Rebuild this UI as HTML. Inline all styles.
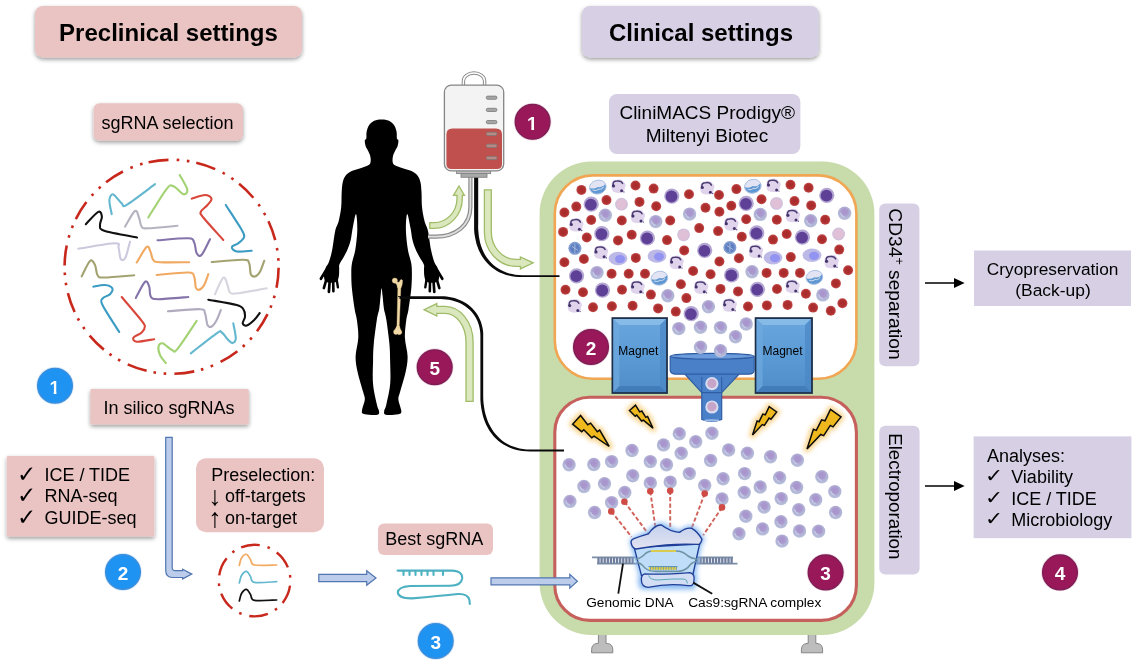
<!DOCTYPE html>
<html lang="en"><head><meta charset="utf-8"><title>Preclinical and clinical settings</title>
<style>html,body{margin:0;padding:0;background:#fff;}body{width:1134px;height:660px;overflow:hidden;}svg{display:block;filter:blur(0.4px);}text{font-family:"Liberation Sans", Arial, sans-serif;fill:#000;}</style></head><body>
<svg width="1134" height="660" viewBox="0 0 1134 660">
<defs>
<radialGradient id="gRed" cx="50%" cy="50%" r="50%"><stop offset="0" stop-color="#a62a2a"/><stop offset="0.7" stop-color="#b03030"/><stop offset="1" stop-color="#c45454"/></radialGradient>
<radialGradient id="gLav" cx="50%" cy="40%" r="60%"><stop offset="0" stop-color="#a794cc"/><stop offset="0.4" stop-color="#aa99cf"/><stop offset="0.62" stop-color="#b0b0d4"/><stop offset="1" stop-color="#b8c2dc"/></radialGradient>
<linearGradient id="gMag" x1="0" y1="0" x2="0" y2="1"><stop offset="0" stop-color="#6aa6de"/><stop offset="0.5" stop-color="#5b9bd5"/><stop offset="1" stop-color="#4f8cc8"/></linearGradient>
<linearGradient id="gCasTop" x1="0" y1="0" x2="0" y2="1"><stop offset="0" stop-color="#c3d2ee"/><stop offset="1" stop-color="#e4e3f1"/></linearGradient>
<filter id="sh" x="-10%" y="-20%" width="120%" height="160%"><feGaussianBlur in="SourceAlpha" stdDeviation="1.9"/><feOffset dx="0.3" dy="2.4" result="b"/><feComponentTransfer><feFuncA type="linear" slope="0.4"/></feComponentTransfer><feMerge><feMergeNode/><feMergeNode in="SourceGraphic"/></feMerge></filter>
<filter id="shb" x="-30%" y="-30%" width="160%" height="160%"><feGaussianBlur in="SourceAlpha" stdDeviation="1.2"/><feOffset dx="0" dy="1" result="b"/><feComponentTransfer><feFuncA type="linear" slope="0.35"/></feComponentTransfer><feMerge><feMergeNode/><feMergeNode in="SourceGraphic"/></feMerge></filter>
<filter id="glow" x="-50%" y="-50%" width="200%" height="200%"><feGaussianBlur stdDeviation="2.2"/></filter>
<filter id="glow2" x="-50%" y="-50%" width="200%" height="200%"><feGaussianBlur stdDeviation="2.4"/></filter>
<filter id="soft" x="-5%" y="-5%" width="110%" height="110%"><feGaussianBlur stdDeviation="0.35"/></filter>
<clipPath id="cpOne"><path d="M-5.4 -15 H1.9 V0.4 H-0.95 V-2.05 H-5.4 Z"/></clipPath>
</defs>
<rect width="1134" height="660" fill="#fff"/>
<g id="device">
<path d="M598.4 634 h7.6 v9.4 h1.2 q5.6 0.6 5.6 6.4 v3 h-21.2 v-3 q0 -5.8 5.6 -6.4 h1.2 Z" fill="#bdbdbd" stroke="#858585" stroke-width="1"/>
<path d="M808.2 634 h7.6 v9.4 h1.2 q5.6 0.6 5.6 6.4 v3 h-21.2 v-3 q0 -5.8 5.6 -6.4 h1.2 Z" fill="#bdbdbd" stroke="#858585" stroke-width="1"/>
<rect x="539.6" y="161.6" width="334.8" height="473.4" rx="52" ry="52" fill="#c8dbaa"/>
<rect x="554.8" y="175.4" width="301.6" height="203.4" rx="38" ry="38" fill="#fff" stroke="#f0a653" stroke-width="2.6"/>
<rect x="554.8" y="397.2" width="301.6" height="223.2" rx="35" ry="35" fill="#fff" stroke="#c6605c" stroke-width="3.1"/>
</g>
<g id="upper-cells">
<circle cx="581.4" cy="189.9" r="5" fill="url(#gRed)"/>
<circle cx="736.4" cy="189.1" r="5" fill="url(#gRed)"/>
<circle cx="635.5" cy="185.5" r="5" fill="url(#gRed)"/>
<circle cx="790.5" cy="184.7" r="5" fill="url(#gRed)"/>
<circle cx="653.6" cy="188.6" r="5" fill="url(#gRed)"/>
<circle cx="808.6" cy="187.8" r="5" fill="url(#gRed)"/>
<circle cx="689" cy="194.2" r="5" fill="url(#gRed)"/>
<circle cx="606.5" cy="200.1" r="5" fill="url(#gRed)"/>
<circle cx="761.5" cy="199.3" r="5" fill="url(#gRed)"/>
<circle cx="639.5" cy="201.9" r="5" fill="url(#gRed)"/>
<circle cx="794.5" cy="201.1" r="5" fill="url(#gRed)"/>
<circle cx="656.2" cy="206.2" r="5" fill="url(#gRed)"/>
<circle cx="811.2" cy="205.4" r="5" fill="url(#gRed)"/>
<circle cx="705.5" cy="207.7" r="5" fill="url(#gRed)"/>
<circle cx="576.3" cy="206.6" r="5" fill="url(#gRed)"/>
<circle cx="731.3" cy="205.8" r="5" fill="url(#gRed)"/>
<circle cx="564.4" cy="212.5" r="5" fill="url(#gRed)"/>
<circle cx="719.4" cy="211.7" r="5" fill="url(#gRed)"/>
<circle cx="591.2" cy="220" r="5" fill="url(#gRed)"/>
<circle cx="746.2" cy="219.2" r="5" fill="url(#gRed)"/>
<circle cx="621.8" cy="220.5" r="5" fill="url(#gRed)"/>
<circle cx="776.8" cy="219.7" r="5" fill="url(#gRed)"/>
<circle cx="670.2" cy="220.5" r="5" fill="url(#gRed)"/>
<circle cx="825.2" cy="219.7" r="5" fill="url(#gRed)"/>
<circle cx="699.2" cy="228.1" r="5" fill="url(#gRed)"/>
<circle cx="563.1" cy="231.9" r="5" fill="url(#gRed)"/>
<circle cx="718.1" cy="231.1" r="5" fill="url(#gRed)"/>
<circle cx="586.8" cy="237.5" r="5" fill="url(#gRed)"/>
<circle cx="741.8" cy="236.7" r="5" fill="url(#gRed)"/>
<circle cx="618" cy="240.4" r="5" fill="url(#gRed)"/>
<circle cx="773" cy="239.6" r="5" fill="url(#gRed)"/>
<circle cx="631.7" cy="234.8" r="5" fill="url(#gRed)"/>
<circle cx="786.7" cy="234" r="5" fill="url(#gRed)"/>
<circle cx="667" cy="240.1" r="5" fill="url(#gRed)"/>
<circle cx="822" cy="239.3" r="5" fill="url(#gRed)"/>
<circle cx="684.2" cy="250.4" r="5" fill="url(#gRed)"/>
<circle cx="839.2" cy="249.6" r="5" fill="url(#gRed)"/>
<circle cx="635.8" cy="257.9" r="5" fill="url(#gRed)"/>
<circle cx="790.8" cy="257.1" r="5" fill="url(#gRed)"/>
<circle cx="583.9" cy="259" r="5" fill="url(#gRed)"/>
<circle cx="738.9" cy="258.2" r="5" fill="url(#gRed)"/>
<circle cx="564.4" cy="262.3" r="5" fill="url(#gRed)"/>
<circle cx="719.4" cy="261.5" r="5" fill="url(#gRed)"/>
<circle cx="611.6" cy="273.7" r="5" fill="url(#gRed)"/>
<circle cx="766.6" cy="272.9" r="5" fill="url(#gRed)"/>
<circle cx="628.7" cy="273.7" r="5" fill="url(#gRed)"/>
<circle cx="783.7" cy="272.9" r="5" fill="url(#gRed)"/>
<circle cx="645" cy="273.7" r="5" fill="url(#gRed)"/>
<circle cx="800" cy="272.9" r="5" fill="url(#gRed)"/>
<circle cx="693.1" cy="271" r="5" fill="url(#gRed)"/>
<circle cx="848.1" cy="270.2" r="5" fill="url(#gRed)"/>
<circle cx="710.6" cy="274.2" r="5" fill="url(#gRed)"/>
<circle cx="565.5" cy="289.7" r="5" fill="url(#gRed)"/>
<circle cx="720.5" cy="288.9" r="5" fill="url(#gRed)"/>
<circle cx="583" cy="292.2" r="5" fill="url(#gRed)"/>
<circle cx="738" cy="291.4" r="5" fill="url(#gRed)"/>
<circle cx="622" cy="289.8" r="5" fill="url(#gRed)"/>
<circle cx="777" cy="289" r="5" fill="url(#gRed)"/>
<circle cx="650.9" cy="294.6" r="5" fill="url(#gRed)"/>
<circle cx="805.9" cy="293.8" r="5" fill="url(#gRed)"/>
<circle cx="680.9" cy="284.2" r="5" fill="url(#gRed)"/>
<circle cx="835.9" cy="283.4" r="5" fill="url(#gRed)"/>
<circle cx="686.4" cy="298.1" r="5" fill="url(#gRed)"/>
<circle cx="842.4" cy="303.2" r="5" fill="url(#gRed)"/>
<circle cx="593" cy="307.3" r="5" fill="url(#gRed)"/>
<circle cx="748" cy="306.5" r="5" fill="url(#gRed)"/>
<circle cx="611.9" cy="306.2" r="5" fill="url(#gRed)"/>
<circle cx="766.9" cy="305.4" r="5" fill="url(#gRed)"/>
<circle cx="632.6" cy="305.7" r="5" fill="url(#gRed)"/>
<circle cx="787.6" cy="304.9" r="5" fill="url(#gRed)"/>
<circle cx="658.1" cy="308.4" r="5" fill="url(#gRed)"/>
<circle cx="813.1" cy="307.6" r="5" fill="url(#gRed)"/>
<circle cx="675.8" cy="311.6" r="5" fill="url(#gRed)"/>
<circle cx="830.8" cy="310.8" r="5" fill="url(#gRed)"/>
<circle cx="591.2" cy="204.2" r="7.6" fill="#b3a6d3"/><circle cx="590.9" cy="204.6" r="5.9" fill="#5e4196"/>
<circle cx="746.2" cy="203.4" r="7.6" fill="#b3a6d3"/><circle cx="745.9" cy="203.8" r="5.9" fill="#5e4196"/>
<circle cx="671.8" cy="196.1" r="7.6" fill="#b3a6d3"/><circle cx="671.5" cy="196.5" r="5.9" fill="#5e4196"/>
<circle cx="826.8" cy="195.3" r="7.6" fill="#b3a6d3"/><circle cx="826.5" cy="195.7" r="5.9" fill="#5e4196"/>
<circle cx="601.8" cy="233.7" r="7.6" fill="#b3a6d3"/><circle cx="601.5" cy="234.1" r="5.9" fill="#5e4196"/>
<circle cx="756.8" cy="232.9" r="7.6" fill="#b3a6d3"/><circle cx="756.5" cy="233.3" r="5.9" fill="#5e4196"/>
<circle cx="647.4" cy="238" r="7.6" fill="#b3a6d3"/><circle cx="647.1" cy="238.4" r="5.9" fill="#5e4196"/>
<circle cx="802.4" cy="237.2" r="7.6" fill="#b3a6d3"/><circle cx="802.1" cy="237.6" r="5.9" fill="#5e4196"/>
<circle cx="704.7" cy="250.4" r="7.6" fill="#b3a6d3"/><circle cx="704.4" cy="250.8" r="5.9" fill="#5e4196"/>
<circle cx="576.6" cy="275.8" r="7.6" fill="#b3a6d3"/><circle cx="576.3" cy="276.2" r="5.9" fill="#5e4196"/>
<circle cx="731.6" cy="275" r="7.6" fill="#b3a6d3"/><circle cx="731.3" cy="275.4" r="5.9" fill="#5e4196"/>
<circle cx="602.5" cy="290.1" r="7.6" fill="#b3a6d3"/><circle cx="602.2" cy="290.5" r="5.9" fill="#5e4196"/>
<circle cx="757.5" cy="289.3" r="7.6" fill="#b3a6d3"/><circle cx="757.2" cy="289.7" r="5.9" fill="#5e4196"/>
<circle cx="691.2" cy="313.7" r="7.6" fill="#b3a6d3"/><circle cx="690.9" cy="314.1" r="5.9" fill="#5e4196"/>
<circle cx="605.3" cy="215.2" r="6.7" fill="url(#gLav)"/><path d="M601.4 215 q0.6 3 3.6 3.9" fill="none" stroke="#c9d0e8" stroke-width="1.1" stroke-linecap="round" opacity="0.9"/>
<circle cx="760.3" cy="214.4" r="6.7" fill="url(#gLav)"/><path d="M756.4 214.2 q0.6 3 3.6 3.9" fill="none" stroke="#c9d0e8" stroke-width="1.1" stroke-linecap="round" opacity="0.9"/>
<circle cx="655.7" cy="221.6" r="6.7" fill="url(#gLav)"/><path d="M651.8 221.4 q0.6 3 3.6 3.9" fill="none" stroke="#c9d0e8" stroke-width="1.1" stroke-linecap="round" opacity="0.9"/>
<circle cx="810.7" cy="220.8" r="6.7" fill="url(#gLav)"/><path d="M806.8 220.6 q0.6 3 3.6 3.9" fill="none" stroke="#c9d0e8" stroke-width="1.1" stroke-linecap="round" opacity="0.9"/>
<circle cx="689.6" cy="214.1" r="6.7" fill="url(#gLav)"/><path d="M685.7 213.9 q0.6 3 3.6 3.9" fill="none" stroke="#c9d0e8" stroke-width="1.1" stroke-linecap="round" opacity="0.9"/>
<circle cx="844.6" cy="213.3" r="6.7" fill="url(#gLav)"/><path d="M840.7 213.1 q0.6 3 3.6 3.9" fill="none" stroke="#c9d0e8" stroke-width="1.1" stroke-linecap="round" opacity="0.9"/>
<circle cx="597" cy="272.6" r="6.7" fill="url(#gLav)"/><path d="M593.1 272.4 q0.6 3 3.6 3.9" fill="none" stroke="#c9d0e8" stroke-width="1.1" stroke-linecap="round" opacity="0.9"/>
<circle cx="752" cy="271.8" r="6.7" fill="url(#gLav)"/><path d="M748.1 271.6 q0.6 3 3.6 3.9" fill="none" stroke="#c9d0e8" stroke-width="1.1" stroke-linecap="round" opacity="0.9"/>
<circle cx="667.8" cy="295.7" r="6.7" fill="url(#gLav)"/><path d="M663.9 295.5 q0.6 3 3.6 3.9" fill="none" stroke="#c9d0e8" stroke-width="1.1" stroke-linecap="round" opacity="0.9"/>
<circle cx="822.8" cy="294.9" r="6.7" fill="url(#gLav)"/><path d="M818.9 294.7 q0.6 3 3.6 3.9" fill="none" stroke="#c9d0e8" stroke-width="1.1" stroke-linecap="round" opacity="0.9"/>
<circle cx="621.5" cy="204.2" r="6.4" fill="#cfc0dc"/><circle cx="621.5" cy="204.2" r="5.2" fill="#e0c0d6"/>
<circle cx="776.5" cy="203.4" r="6.4" fill="#cfc0dc"/><circle cx="776.5" cy="203.4" r="5.2" fill="#e0c0d6"/>
<circle cx="683.6" cy="234.8" r="6.4" fill="#cfc0dc"/><circle cx="683.6" cy="234.8" r="5.2" fill="#e0c0d6"/>
<circle cx="838.6" cy="234" r="6.4" fill="#cfc0dc"/><circle cx="838.6" cy="234" r="5.2" fill="#e0c0d6"/>
<g transform="translate(597.8 187.1) rotate(-14)"><ellipse rx="8.4" ry="6.9" fill="#e2e4f3"/><path d="M-8.2 -1.2 Q-4 1.6 0 -0.2 Q4 2 8.3 -1 Q8.6 5.6 1.5 6.8 Q-7.4 7.2 -8.2 -1.2Z" fill="#5f97d2"/><path d="M-5.4 1.6 Q-2.6 3.6 0 2 Q2.6 3.8 5.4 1.4" fill="none" stroke="#c3d6ee" stroke-width="1" stroke-linecap="round"/><ellipse rx="8.4" ry="6.9" fill="none" stroke="#a9bfe2" stroke-width="0.9"/></g>
<g transform="translate(752.8 186.3) rotate(-14)"><ellipse rx="8.4" ry="6.9" fill="#e2e4f3"/><path d="M-8.2 -1.2 Q-4 1.6 0 -0.2 Q4 2 8.3 -1 Q8.6 5.6 1.5 6.8 Q-7.4 7.2 -8.2 -1.2Z" fill="#5f97d2"/><path d="M-5.4 1.6 Q-2.6 3.6 0 2 Q2.6 3.8 5.4 1.4" fill="none" stroke="#c3d6ee" stroke-width="1" stroke-linecap="round"/><ellipse rx="8.4" ry="6.9" fill="none" stroke="#a9bfe2" stroke-width="0.9"/></g>
<g transform="translate(659.4 278.2) rotate(-14)"><ellipse rx="8.4" ry="6.9" fill="#e2e4f3"/><path d="M-8.2 -1.2 Q-4 1.6 0 -0.2 Q4 2 8.3 -1 Q8.6 5.6 1.5 6.8 Q-7.4 7.2 -8.2 -1.2Z" fill="#5f97d2"/><path d="M-5.4 1.6 Q-2.6 3.6 0 2 Q2.6 3.8 5.4 1.4" fill="none" stroke="#c3d6ee" stroke-width="1" stroke-linecap="round"/><ellipse rx="8.4" ry="6.9" fill="none" stroke="#a9bfe2" stroke-width="0.9"/></g>
<g transform="translate(814.4 277.4) rotate(-14)"><ellipse rx="8.4" ry="6.9" fill="#e2e4f3"/><path d="M-8.2 -1.2 Q-4 1.6 0 -0.2 Q4 2 8.3 -1 Q8.6 5.6 1.5 6.8 Q-7.4 7.2 -8.2 -1.2Z" fill="#5f97d2"/><path d="M-5.4 1.6 Q-2.6 3.6 0 2 Q2.6 3.8 5.4 1.4" fill="none" stroke="#c3d6ee" stroke-width="1" stroke-linecap="round"/><ellipse rx="8.4" ry="6.9" fill="none" stroke="#a9bfe2" stroke-width="0.9"/></g>
<circle cx="574.9" cy="248.3" r="6.5" fill="#7f9bd0"/><circle cx="574.9" cy="248.3" r="4.8" fill="#5f7fc0"/><path d="M574.9 243.8 v9 M571.9 246.3 l6 4" stroke="#a9bde0" stroke-width="0.9" fill="none"/>
<circle cx="729.9" cy="247.5" r="6.5" fill="#7f9bd0"/><circle cx="729.9" cy="247.5" r="4.8" fill="#5f7fc0"/><path d="M729.9 243 v9 M726.9 245.5 l6 4" stroke="#a9bde0" stroke-width="0.9" fill="none"/>
<g transform="translate(618 186.3)"><path d="M-6.5 -1 Q-7 -6 -2 -6.5 Q4 -8 6 -4 Q9 -2.5 6.8 1.5 Q7.4 6.6 1 6.6 Q-6 7 -6.5 2Z" fill="#e0d4ed"/><path d="M-4.9 -1.2 Q-5.4 -5.2 -1.2 -5.2 Q3.4 -5.8 4.6 -2.8" fill="none" stroke="#4b3d72" stroke-width="1.5" stroke-linecap="round"/><circle cx="-4.5" cy="-0.4" r="1.6" fill="#43356c"/><circle cx="3.6" cy="4.4" r="1.5" fill="#43356c"/><circle cx="5.9" cy="5.6" r="0.7" fill="#55468a"/></g>
<g transform="translate(773 185.5)"><path d="M-6.5 -1 Q-7 -6 -2 -6.5 Q4 -8 6 -4 Q9 -2.5 6.8 1.5 Q7.4 6.6 1 6.6 Q-6 7 -6.5 2Z" fill="#e0d4ed"/><path d="M-4.9 -1.2 Q-5.4 -5.2 -1.2 -5.2 Q3.4 -5.8 4.6 -2.8" fill="none" stroke="#4b3d72" stroke-width="1.5" stroke-linecap="round"/><circle cx="-4.5" cy="-0.4" r="1.6" fill="#43356c"/><circle cx="3.6" cy="4.4" r="1.5" fill="#43356c"/><circle cx="5.9" cy="5.6" r="0.7" fill="#55468a"/></g>
<g transform="translate(706.8 187.9)"><path d="M-6.5 -1 Q-7 -6 -2 -6.5 Q4 -8 6 -4 Q9 -2.5 6.8 1.5 Q7.4 6.6 1 6.6 Q-6 7 -6.5 2Z" fill="#e0d4ed"/><path d="M-4.9 -1.2 Q-5.4 -5.2 -1.2 -5.2 Q3.4 -5.8 4.6 -2.8" fill="none" stroke="#4b3d72" stroke-width="1.5" stroke-linecap="round"/><circle cx="-4.5" cy="-0.4" r="1.6" fill="#43356c"/><circle cx="3.6" cy="4.4" r="1.5" fill="#43356c"/><circle cx="5.9" cy="5.6" r="0.7" fill="#55468a"/></g>
<g transform="translate(637.4 216.5)"><path d="M-6.5 -1 Q-7 -6 -2 -6.5 Q4 -8 6 -4 Q9 -2.5 6.8 1.5 Q7.4 6.6 1 6.6 Q-6 7 -6.5 2Z" fill="#e0d4ed"/><path d="M-4.9 -1.2 Q-5.4 -5.2 -1.2 -5.2 Q3.4 -5.8 4.6 -2.8" fill="none" stroke="#4b3d72" stroke-width="1.5" stroke-linecap="round"/><circle cx="-4.5" cy="-0.4" r="1.6" fill="#43356c"/><circle cx="3.6" cy="4.4" r="1.5" fill="#43356c"/><circle cx="5.9" cy="5.6" r="0.7" fill="#55468a"/></g>
<g transform="translate(792.4 215.7)"><path d="M-6.5 -1 Q-7 -6 -2 -6.5 Q4 -8 6 -4 Q9 -2.5 6.8 1.5 Q7.4 6.6 1 6.6 Q-6 7 -6.5 2Z" fill="#e0d4ed"/><path d="M-4.9 -1.2 Q-5.4 -5.2 -1.2 -5.2 Q3.4 -5.8 4.6 -2.8" fill="none" stroke="#4b3d72" stroke-width="1.5" stroke-linecap="round"/><circle cx="-4.5" cy="-0.4" r="1.6" fill="#43356c"/><circle cx="3.6" cy="4.4" r="1.5" fill="#43356c"/><circle cx="5.9" cy="5.6" r="0.7" fill="#55468a"/></g>
<g transform="translate(575.8 224.9)"><path d="M-6.5 -1 Q-7 -6 -2 -6.5 Q4 -8 6 -4 Q9 -2.5 6.8 1.5 Q7.4 6.6 1 6.6 Q-6 7 -6.5 2Z" fill="#e0d4ed"/><path d="M-4.9 -1.2 Q-5.4 -5.2 -1.2 -5.2 Q3.4 -5.8 4.6 -2.8" fill="none" stroke="#4b3d72" stroke-width="1.5" stroke-linecap="round"/><circle cx="-4.5" cy="-0.4" r="1.6" fill="#43356c"/><circle cx="3.6" cy="4.4" r="1.5" fill="#43356c"/><circle cx="5.9" cy="5.6" r="0.7" fill="#55468a"/></g>
<g transform="translate(730.8 224.1)"><path d="M-6.5 -1 Q-7 -6 -2 -6.5 Q4 -8 6 -4 Q9 -2.5 6.8 1.5 Q7.4 6.6 1 6.6 Q-6 7 -6.5 2Z" fill="#e0d4ed"/><path d="M-4.9 -1.2 Q-5.4 -5.2 -1.2 -5.2 Q3.4 -5.8 4.6 -2.8" fill="none" stroke="#4b3d72" stroke-width="1.5" stroke-linecap="round"/><circle cx="-4.5" cy="-0.4" r="1.6" fill="#43356c"/><circle cx="3.6" cy="4.4" r="1.5" fill="#43356c"/><circle cx="5.9" cy="5.6" r="0.7" fill="#55468a"/></g>
<g transform="translate(600.5 252.3)"><path d="M-6.5 -1 Q-7 -6 -2 -6.5 Q4 -8 6 -4 Q9 -2.5 6.8 1.5 Q7.4 6.6 1 6.6 Q-6 7 -6.5 2Z" fill="#e0d4ed"/><path d="M-4.9 -1.2 Q-5.4 -5.2 -1.2 -5.2 Q3.4 -5.8 4.6 -2.8" fill="none" stroke="#4b3d72" stroke-width="1.5" stroke-linecap="round"/><circle cx="-4.5" cy="-0.4" r="1.6" fill="#43356c"/><circle cx="3.6" cy="4.4" r="1.5" fill="#43356c"/><circle cx="5.9" cy="5.6" r="0.7" fill="#55468a"/></g>
<g transform="translate(755.5 251.5)"><path d="M-6.5 -1 Q-7 -6 -2 -6.5 Q4 -8 6 -4 Q9 -2.5 6.8 1.5 Q7.4 6.6 1 6.6 Q-6 7 -6.5 2Z" fill="#e0d4ed"/><path d="M-4.9 -1.2 Q-5.4 -5.2 -1.2 -5.2 Q3.4 -5.8 4.6 -2.8" fill="none" stroke="#4b3d72" stroke-width="1.5" stroke-linecap="round"/><circle cx="-4.5" cy="-0.4" r="1.6" fill="#43356c"/><circle cx="3.6" cy="4.4" r="1.5" fill="#43356c"/><circle cx="5.9" cy="5.6" r="0.7" fill="#55468a"/></g>
<g transform="translate(676.1 262.5)"><path d="M-6.5 -1 Q-7 -6 -2 -6.5 Q4 -8 6 -4 Q9 -2.5 6.8 1.5 Q7.4 6.6 1 6.6 Q-6 7 -6.5 2Z" fill="#e0d4ed"/><path d="M-4.9 -1.2 Q-5.4 -5.2 -1.2 -5.2 Q3.4 -5.8 4.6 -2.8" fill="none" stroke="#4b3d72" stroke-width="1.5" stroke-linecap="round"/><circle cx="-4.5" cy="-0.4" r="1.6" fill="#43356c"/><circle cx="3.6" cy="4.4" r="1.5" fill="#43356c"/><circle cx="5.9" cy="5.6" r="0.7" fill="#55468a"/></g>
<g transform="translate(831.1 261.7)"><path d="M-6.5 -1 Q-7 -6 -2 -6.5 Q4 -8 6 -4 Q9 -2.5 6.8 1.5 Q7.4 6.6 1 6.6 Q-6 7 -6.5 2Z" fill="#e0d4ed"/><path d="M-4.9 -1.2 Q-5.4 -5.2 -1.2 -5.2 Q3.4 -5.8 4.6 -2.8" fill="none" stroke="#4b3d72" stroke-width="1.5" stroke-linecap="round"/><circle cx="-4.5" cy="-0.4" r="1.6" fill="#43356c"/><circle cx="3.6" cy="4.4" r="1.5" fill="#43356c"/><circle cx="5.9" cy="5.6" r="0.7" fill="#55468a"/></g>
<g transform="translate(637.1 287.3)"><path d="M-6.5 -1 Q-7 -6 -2 -6.5 Q4 -8 6 -4 Q9 -2.5 6.8 1.5 Q7.4 6.6 1 6.6 Q-6 7 -6.5 2Z" fill="#e0d4ed"/><path d="M-4.9 -1.2 Q-5.4 -5.2 -1.2 -5.2 Q3.4 -5.8 4.6 -2.8" fill="none" stroke="#4b3d72" stroke-width="1.5" stroke-linecap="round"/><circle cx="-4.5" cy="-0.4" r="1.6" fill="#43356c"/><circle cx="3.6" cy="4.4" r="1.5" fill="#43356c"/><circle cx="5.9" cy="5.6" r="0.7" fill="#55468a"/></g>
<g transform="translate(792.1 286.5)"><path d="M-6.5 -1 Q-7 -6 -2 -6.5 Q4 -8 6 -4 Q9 -2.5 6.8 1.5 Q7.4 6.6 1 6.6 Q-6 7 -6.5 2Z" fill="#e0d4ed"/><path d="M-4.9 -1.2 Q-5.4 -5.2 -1.2 -5.2 Q3.4 -5.8 4.6 -2.8" fill="none" stroke="#4b3d72" stroke-width="1.5" stroke-linecap="round"/><circle cx="-4.5" cy="-0.4" r="1.6" fill="#43356c"/><circle cx="3.6" cy="4.4" r="1.5" fill="#43356c"/><circle cx="5.9" cy="5.6" r="0.7" fill="#55468a"/></g>
<g transform="translate(700.7 287.3)"><path d="M-6.5 -1 Q-7 -6 -2 -6.5 Q4 -8 6 -4 Q9 -2.5 6.8 1.5 Q7.4 6.6 1 6.6 Q-6 7 -6.5 2Z" fill="#e0d4ed"/><path d="M-4.9 -1.2 Q-5.4 -5.2 -1.2 -5.2 Q3.4 -5.8 4.6 -2.8" fill="none" stroke="#4b3d72" stroke-width="1.5" stroke-linecap="round"/><circle cx="-4.5" cy="-0.4" r="1.6" fill="#43356c"/><circle cx="3.6" cy="4.4" r="1.5" fill="#43356c"/><circle cx="5.9" cy="5.6" r="0.7" fill="#55468a"/></g>
<g transform="translate(574.2 306)"><path d="M-6.5 -1 Q-7 -6 -2 -6.5 Q4 -8 6 -4 Q9 -2.5 6.8 1.5 Q7.4 6.6 1 6.6 Q-6 7 -6.5 2Z" fill="#e0d4ed"/><path d="M-4.9 -1.2 Q-5.4 -5.2 -1.2 -5.2 Q3.4 -5.8 4.6 -2.8" fill="none" stroke="#4b3d72" stroke-width="1.5" stroke-linecap="round"/><circle cx="-4.5" cy="-0.4" r="1.6" fill="#43356c"/><circle cx="3.6" cy="4.4" r="1.5" fill="#43356c"/><circle cx="5.9" cy="5.6" r="0.7" fill="#55468a"/></g>
<g transform="translate(729.2 305.2)"><path d="M-6.5 -1 Q-7 -6 -2 -6.5 Q4 -8 6 -4 Q9 -2.5 6.8 1.5 Q7.4 6.6 1 6.6 Q-6 7 -6.5 2Z" fill="#e0d4ed"/><path d="M-4.9 -1.2 Q-5.4 -5.2 -1.2 -5.2 Q3.4 -5.8 4.6 -2.8" fill="none" stroke="#4b3d72" stroke-width="1.5" stroke-linecap="round"/><circle cx="-4.5" cy="-0.4" r="1.6" fill="#43356c"/><circle cx="3.6" cy="4.4" r="1.5" fill="#43356c"/><circle cx="5.9" cy="5.6" r="0.7" fill="#55468a"/></g>
<ellipse cx="618" cy="258.5" rx="9.4" ry="6.7" fill="#bdb9e6"/><ellipse cx="620" cy="259" rx="5" ry="4.1" fill="#9394f2"/>
<ellipse cx="773" cy="257.7" rx="9.4" ry="6.7" fill="#bdb9e6"/><ellipse cx="775" cy="258.2" rx="5" ry="4.1" fill="#9394f2"/>
<ellipse cx="657" cy="256.1" rx="9.4" ry="6.7" fill="#bdb9e6"/><ellipse cx="659" cy="256.6" rx="5" ry="4.1" fill="#9394f2"/>
<ellipse cx="812" cy="255.3" rx="9.4" ry="6.7" fill="#bdb9e6"/><ellipse cx="814" cy="255.8" rx="5" ry="4.1" fill="#9394f2"/>
<circle cx="719" cy="195" r="5" fill="url(#gRed)"/>
<circle cx="708.4" cy="306.8" r="6.7" fill="url(#gLav)"/><path d="M704.5 306.6 q0.6 3 3.6 3.9" fill="none" stroke="#c9d0e8" stroke-width="1.1" stroke-linecap="round" opacity="0.9"/>
<circle cx="678.8" cy="328.6" r="6.7" fill="url(#gLav)"/><path d="M674.9 328.4 q0.6 3 3.6 3.9" fill="none" stroke="#c9d0e8" stroke-width="1.1" stroke-linecap="round" opacity="0.9"/>
<circle cx="700.5" cy="327.2" r="6.7" fill="url(#gLav)"/><path d="M696.6 327 q0.6 3 3.6 3.9" fill="none" stroke="#c9d0e8" stroke-width="1.1" stroke-linecap="round" opacity="0.9"/>
<circle cx="720.5" cy="327.6" r="6.7" fill="url(#gLav)"/><path d="M716.6 327.4 q0.6 3 3.6 3.9" fill="none" stroke="#c9d0e8" stroke-width="1.1" stroke-linecap="round" opacity="0.9"/>
<circle cx="746.2" cy="324" r="6.7" fill="url(#gLav)"/><path d="M742.3 323.8 q0.6 3 3.6 3.9" fill="none" stroke="#c9d0e8" stroke-width="1.1" stroke-linecap="round" opacity="0.9"/>
<circle cx="735.5" cy="336.8" r="6.7" fill="url(#gLav)"/><path d="M731.6 336.6 q0.6 3 3.6 3.9" fill="none" stroke="#c9d0e8" stroke-width="1.1" stroke-linecap="round" opacity="0.9"/>
</g>
<g id="lower-cells">
<path d="M611.3 511.4 L631.5 536.8" stroke="#d0625a" stroke-width="1.9" stroke-dasharray="4.2 2.2" fill="none"/>
<path d="M624.4 501.8 L648.2 533.7" stroke="#d0625a" stroke-width="1.9" stroke-dasharray="4.2 2.2" fill="none"/>
<path d="M650.3 491.2 L655.4 527.3" stroke="#d0625a" stroke-width="1.9" stroke-dasharray="4.2 2.2" fill="none"/>
<path d="M670.2 490.7 L670.2 527.3" stroke="#d0625a" stroke-width="1.9" stroke-dasharray="4.2 2.2" fill="none"/>
<path d="M704.7 493.6 L692 527.3" stroke="#d0625a" stroke-width="1.9" stroke-dasharray="4.2 2.2" fill="none"/>
<path d="M722 507.4 L703.2 535.3" stroke="#d0625a" stroke-width="1.9" stroke-dasharray="4.2 2.2" fill="none"/>
<circle cx="569.1" cy="464.8" r="6.7" fill="url(#gLav)"/><path d="M565.2 464.6 q0.6 3 3.6 3.9" fill="none" stroke="#c9d0e8" stroke-width="1.1" stroke-linecap="round" opacity="0.9"/>
<circle cx="593.8" cy="464.5" r="6.7" fill="url(#gLav)"/><path d="M589.9 464.3 q0.6 3 3.6 3.9" fill="none" stroke="#c9d0e8" stroke-width="1.1" stroke-linecap="round" opacity="0.9"/>
<circle cx="611.6" cy="461.6" r="6.7" fill="url(#gLav)"/><path d="M607.7 461.4 q0.6 3 3.6 3.9" fill="none" stroke="#c9d0e8" stroke-width="1.1" stroke-linecap="round" opacity="0.9"/>
<circle cx="632" cy="450.5" r="6.7" fill="url(#gLav)"/><path d="M628.1 450.3 q0.6 3 3.6 3.9" fill="none" stroke="#c9d0e8" stroke-width="1.1" stroke-linecap="round" opacity="0.9"/>
<circle cx="663.5" cy="444.9" r="6.7" fill="url(#gLav)"/><path d="M659.6 444.7 q0.6 3 3.6 3.9" fill="none" stroke="#c9d0e8" stroke-width="1.1" stroke-linecap="round" opacity="0.9"/>
<circle cx="679.3" cy="433.8" r="6.7" fill="url(#gLav)"/><path d="M675.4 433.6 q0.6 3 3.6 3.9" fill="none" stroke="#c9d0e8" stroke-width="1.1" stroke-linecap="round" opacity="0.9"/>
<circle cx="695.7" cy="441.7" r="6.7" fill="url(#gLav)"/><path d="M691.8 441.5 q0.6 3 3.6 3.9" fill="none" stroke="#c9d0e8" stroke-width="1.1" stroke-linecap="round" opacity="0.9"/>
<circle cx="711.9" cy="433.3" r="6.7" fill="url(#gLav)"/><path d="M708 433.1 q0.6 3 3.6 3.9" fill="none" stroke="#c9d0e8" stroke-width="1.1" stroke-linecap="round" opacity="0.9"/>
<circle cx="681.2" cy="453.2" r="6.7" fill="url(#gLav)"/><path d="M677.3 453 q0.6 3 3.6 3.9" fill="none" stroke="#c9d0e8" stroke-width="1.1" stroke-linecap="round" opacity="0.9"/>
<circle cx="650.3" cy="461.6" r="6.7" fill="url(#gLav)"/><path d="M646.4 461.4 q0.6 3 3.6 3.9" fill="none" stroke="#c9d0e8" stroke-width="1.1" stroke-linecap="round" opacity="0.9"/>
<circle cx="666.5" cy="464.8" r="6.7" fill="url(#gLav)"/><path d="M662.6 464.6 q0.6 3 3.6 3.9" fill="none" stroke="#c9d0e8" stroke-width="1.1" stroke-linecap="round" opacity="0.9"/>
<circle cx="710.6" cy="460.5" r="6.7" fill="url(#gLav)"/><path d="M706.7 460.3 q0.6 3 3.6 3.9" fill="none" stroke="#c9d0e8" stroke-width="1.1" stroke-linecap="round" opacity="0.9"/>
<circle cx="689.3" cy="473.6" r="6.7" fill="url(#gLav)"/><path d="M685.4 473.4 q0.6 3 3.6 3.9" fill="none" stroke="#c9d0e8" stroke-width="1.1" stroke-linecap="round" opacity="0.9"/>
<circle cx="632.7" cy="475.8" r="6.7" fill="url(#gLav)"/><path d="M628.8 475.6 q0.6 3 3.6 3.9" fill="none" stroke="#c9d0e8" stroke-width="1.1" stroke-linecap="round" opacity="0.9"/>
<circle cx="650.3" cy="483.1" r="6.7" fill="url(#gLav)"/><path d="M646.4 482.9 q0.6 3 3.6 3.9" fill="none" stroke="#c9d0e8" stroke-width="1.1" stroke-linecap="round" opacity="0.9"/>
<circle cx="670.2" cy="482.1" r="6.7" fill="url(#gLav)"/><path d="M666.3 481.9 q0.6 3 3.6 3.9" fill="none" stroke="#c9d0e8" stroke-width="1.1" stroke-linecap="round" opacity="0.9"/>
<circle cx="704.7" cy="485.4" r="6.7" fill="url(#gLav)"/><path d="M700.8 485.2 q0.6 3 3.6 3.9" fill="none" stroke="#c9d0e8" stroke-width="1.1" stroke-linecap="round" opacity="0.9"/>
<circle cx="604.5" cy="483.7" r="6.7" fill="url(#gLav)"/><path d="M600.6 483.5 q0.6 3 3.6 3.9" fill="none" stroke="#c9d0e8" stroke-width="1.1" stroke-linecap="round" opacity="0.9"/>
<circle cx="583.9" cy="486.5" r="6.7" fill="url(#gLav)"/><path d="M580 486.3 q0.6 3 3.6 3.9" fill="none" stroke="#c9d0e8" stroke-width="1.1" stroke-linecap="round" opacity="0.9"/>
<circle cx="624.8" cy="492.5" r="6.7" fill="url(#gLav)"/><path d="M620.9 492.3 q0.6 3 3.6 3.9" fill="none" stroke="#c9d0e8" stroke-width="1.1" stroke-linecap="round" opacity="0.9"/>
<circle cx="723.1" cy="478.8" r="6.7" fill="url(#gLav)"/><path d="M719.2 478.6 q0.6 3 3.6 3.9" fill="none" stroke="#c9d0e8" stroke-width="1.1" stroke-linecap="round" opacity="0.9"/>
<circle cx="569.9" cy="501.4" r="6.7" fill="url(#gLav)"/><path d="M566 501.2 q0.6 3 3.6 3.9" fill="none" stroke="#c9d0e8" stroke-width="1.1" stroke-linecap="round" opacity="0.9"/>
<circle cx="611.6" cy="502.6" r="6.7" fill="url(#gLav)"/><path d="M607.7 502.4 q0.6 3 3.6 3.9" fill="none" stroke="#c9d0e8" stroke-width="1.1" stroke-linecap="round" opacity="0.9"/>
<circle cx="594.6" cy="512.5" r="6.7" fill="url(#gLav)"/><path d="M590.7 512.3 q0.6 3 3.6 3.9" fill="none" stroke="#c9d0e8" stroke-width="1.1" stroke-linecap="round" opacity="0.9"/>
<circle cx="722" cy="499" r="6.7" fill="url(#gLav)"/><path d="M718.1 498.8 q0.6 3 3.6 3.9" fill="none" stroke="#c9d0e8" stroke-width="1.1" stroke-linecap="round" opacity="0.9"/>
<circle cx="728.6" cy="450" r="6.7" fill="url(#gLav)"/><path d="M724.7 449.8 q0.6 3 3.6 3.9" fill="none" stroke="#c9d0e8" stroke-width="1.1" stroke-linecap="round" opacity="0.9"/>
<circle cx="747.4" cy="453.2" r="6.7" fill="url(#gLav)"/><path d="M743.5 453 q0.6 3 3.6 3.9" fill="none" stroke="#c9d0e8" stroke-width="1.1" stroke-linecap="round" opacity="0.9"/>
<circle cx="770.5" cy="456.8" r="6.7" fill="url(#gLav)"/><path d="M766.6 456.6 q0.6 3 3.6 3.9" fill="none" stroke="#c9d0e8" stroke-width="1.1" stroke-linecap="round" opacity="0.9"/>
<circle cx="797.4" cy="460.3" r="6.7" fill="url(#gLav)"/><path d="M793.5 460.1 q0.6 3 3.6 3.9" fill="none" stroke="#c9d0e8" stroke-width="1.1" stroke-linecap="round" opacity="0.9"/>
<circle cx="744.6" cy="473.6" r="6.7" fill="url(#gLav)"/><path d="M740.7 473.4 q0.6 3 3.6 3.9" fill="none" stroke="#c9d0e8" stroke-width="1.1" stroke-linecap="round" opacity="0.9"/>
<circle cx="779.6" cy="477.7" r="6.7" fill="url(#gLav)"/><path d="M775.7 477.5 q0.6 3 3.6 3.9" fill="none" stroke="#c9d0e8" stroke-width="1.1" stroke-linecap="round" opacity="0.9"/>
<circle cx="821.8" cy="476.7" r="6.7" fill="url(#gLav)"/><path d="M817.9 476.5 q0.6 3 3.6 3.9" fill="none" stroke="#c9d0e8" stroke-width="1.1" stroke-linecap="round" opacity="0.9"/>
<circle cx="760.2" cy="487" r="6.7" fill="url(#gLav)"/><path d="M756.3 486.8 q0.6 3 3.6 3.9" fill="none" stroke="#c9d0e8" stroke-width="1.1" stroke-linecap="round" opacity="0.9"/>
<circle cx="796.6" cy="487.5" r="6.7" fill="url(#gLav)"/><path d="M792.7 487.3 q0.6 3 3.6 3.9" fill="none" stroke="#c9d0e8" stroke-width="1.1" stroke-linecap="round" opacity="0.9"/>
<circle cx="834.8" cy="491.6" r="6.7" fill="url(#gLav)"/><path d="M830.9 491.4 q0.6 3 3.6 3.9" fill="none" stroke="#c9d0e8" stroke-width="1.1" stroke-linecap="round" opacity="0.9"/>
<circle cx="744.2" cy="492.5" r="6.7" fill="url(#gLav)"/><path d="M740.3 492.3 q0.6 3 3.6 3.9" fill="none" stroke="#c9d0e8" stroke-width="1.1" stroke-linecap="round" opacity="0.9"/>
<circle cx="781.2" cy="498.6" r="6.7" fill="url(#gLav)"/><path d="M777.3 498.4 q0.6 3 3.6 3.9" fill="none" stroke="#c9d0e8" stroke-width="1.1" stroke-linecap="round" opacity="0.9"/>
<circle cx="815.7" cy="499.8" r="6.7" fill="url(#gLav)"/><path d="M811.8 499.6 q0.6 3 3.6 3.9" fill="none" stroke="#c9d0e8" stroke-width="1.1" stroke-linecap="round" opacity="0.9"/>
<circle cx="764.1" cy="507.1" r="6.7" fill="url(#gLav)"/><path d="M760.2 506.9 q0.6 3 3.6 3.9" fill="none" stroke="#c9d0e8" stroke-width="1.1" stroke-linecap="round" opacity="0.9"/>
<circle cx="798.7" cy="509.8" r="6.7" fill="url(#gLav)"/><path d="M794.8 509.6 q0.6 3 3.6 3.9" fill="none" stroke="#c9d0e8" stroke-width="1.1" stroke-linecap="round" opacity="0.9"/>
<circle cx="835.6" cy="512.5" r="6.7" fill="url(#gLav)"/><path d="M831.7 512.3 q0.6 3 3.6 3.9" fill="none" stroke="#c9d0e8" stroke-width="1.1" stroke-linecap="round" opacity="0.9"/>
<circle cx="745.8" cy="516.2" r="6.7" fill="url(#gLav)"/><path d="M741.9 516 q0.6 3 3.6 3.9" fill="none" stroke="#c9d0e8" stroke-width="1.1" stroke-linecap="round" opacity="0.9"/>
<circle cx="780.9" cy="521.7" r="6.7" fill="url(#gLav)"/><path d="M777 521.5 q0.6 3 3.6 3.9" fill="none" stroke="#c9d0e8" stroke-width="1.1" stroke-linecap="round" opacity="0.9"/>
<circle cx="762.5" cy="528.9" r="6.7" fill="url(#gLav)"/><path d="M758.6 528.7 q0.6 3 3.6 3.9" fill="none" stroke="#c9d0e8" stroke-width="1.1" stroke-linecap="round" opacity="0.9"/>
<circle cx="739" cy="533.7" r="6.7" fill="url(#gLav)"/><path d="M735.1 533.5 q0.6 3 3.6 3.9" fill="none" stroke="#c9d0e8" stroke-width="1.1" stroke-linecap="round" opacity="0.9"/>
<circle cx="799.5" cy="531" r="6.7" fill="url(#gLav)"/><path d="M795.6 530.8 q0.6 3 3.6 3.9" fill="none" stroke="#c9d0e8" stroke-width="1.1" stroke-linecap="round" opacity="0.9"/>
<circle cx="818.6" cy="531.3" r="6.7" fill="url(#gLav)"/><path d="M814.7 531.1 q0.6 3 3.6 3.9" fill="none" stroke="#c9d0e8" stroke-width="1.1" stroke-linecap="round" opacity="0.9"/>
<circle cx="782" cy="541.1" r="6.7" fill="url(#gLav)"/><path d="M778.1 540.9 q0.6 3 3.6 3.9" fill="none" stroke="#c9d0e8" stroke-width="1.1" stroke-linecap="round" opacity="0.9"/>
<circle cx="611.3" cy="511.4" r="3.3" fill="#cf4c46"/>
<circle cx="624.4" cy="501.8" r="3.3" fill="#cf4c46"/>
<circle cx="650.3" cy="491.2" r="3.3" fill="#cf4c46"/>
<circle cx="670.2" cy="490.7" r="3.3" fill="#cf4c46"/>
<circle cx="704.7" cy="493.6" r="3.3" fill="#cf4c46"/>
<circle cx="722" cy="507.4" r="3.3" fill="#cf4c46"/>
</g>
<g id="magnets">
<rect x="612.4" y="318.1" width="54.6" height="74.9" rx="0" ry="0" fill="url(#gMag)" stroke="#1d2f4a" stroke-width="1.8"/>
<path d="M613.4 319 L666 319 L660 325 L619.4 325Z" fill="#8fc0ea" opacity="0.8"/>
<path d="M613.4 392 L666 392 L660 386 L619.4 386Z" fill="#3c76b4" opacity="0.7"/>
<path d="M613.4 319 L619.4 325 L619.4 386 L613.4 392Z" fill="#6fa9de" opacity="0.7"/>
<path d="M666 319 L660 325 L660 386 L666 392Z" fill="#4a86c4" opacity="0.7"/>
<text x="638.3" y="354.8" font-size="12" text-anchor="middle" fill="#14233c">Magnet</text>
<rect x="755.6" y="318.1" width="56.4" height="74.9" rx="0" ry="0" fill="url(#gMag)" stroke="#1d2f4a" stroke-width="1.8"/>
<path d="M756.6 319 L811 319 L805 325 L762.6 325Z" fill="#8fc0ea" opacity="0.8"/>
<path d="M756.6 392 L811 392 L805 386 L762.6 386Z" fill="#3c76b4" opacity="0.7"/>
<path d="M756.6 319 L762.6 325 L762.6 386 L756.6 392Z" fill="#6fa9de" opacity="0.7"/>
<path d="M811 319 L805 325 L805 386 L811 392Z" fill="#4a86c4" opacity="0.7"/>
<text x="782.5" y="354.8" font-size="12" text-anchor="middle" fill="#14233c">Magnet</text>
<g stroke="#2f5da4" stroke-width="1.2" stroke-linejoin="round">
<path d="M701.8 390 L701.8 419.5 Q711.7 423.5 721.7 419.5 L721.7 390 Z" fill="#4a80c8"/>
<path d="M683 372 L701.8 392.6 L721.7 392.6 L741 372 Z" fill="#4a80c8"/>
<path d="M670.2 356.5 L670.2 370 Q670.2 374.2 676 374.2 L748.4 374.2 Q754.2 374.2 754.2 370 L754.2 356.5 Z" fill="#4a80c8"/>
<ellipse cx="712.2" cy="356.3" rx="42" ry="2.9" fill="#6d9cdc"/>
<path d="M701.8 377 V392 M721.7 377 V392" fill="none" stroke-width="1"/>
</g>
<ellipse cx="711.8" cy="420.4" rx="7.6" ry="1.1" fill="#9cbbe8"/>
<circle cx="711.9" cy="383.7" r="6.6" fill="#d9dcf0"/><circle cx="711.9" cy="383.4" r="4.6" fill="#c6a5c8"/>
<circle cx="711.9" cy="407" r="6.6" fill="#d9dcf0"/><circle cx="711.9" cy="406.7" r="4.6" fill="#c6a5c8"/>
</g>
<g id="funnel-cells"><circle cx="700.5" cy="347.3" r="6.7" fill="url(#gLav)"/><path d="M696.6 347.1 q0.6 3 3.6 3.9" fill="none" stroke="#c9d0e8" stroke-width="1.1" stroke-linecap="round" opacity="0.9"/><circle cx="720.5" cy="350.8" r="6.7" fill="url(#gLav)"/><path d="M716.6 350.6 q0.6 3 3.6 3.9" fill="none" stroke="#c9d0e8" stroke-width="1.1" stroke-linecap="round" opacity="0.9"/></g>
<g id="bolts">
<path d="M572.6 424.2 L580.6 415.5 L587.7 424.7 L590.6 423.1 L597.3 431.7 L599.7 430.1 L609.2 446.5 L594.1 436.2 L591.7 437.7 L583.8 429.8 L581.7 431.7Z" fill="#f8d288" stroke="#f8d288" stroke-width="7" stroke-linejoin="round" filter="url(#glow)" opacity="0.9"/><path d="M572.6 424.2 L580.6 415.5 L587.7 424.7 L590.6 423.1 L597.3 431.7 L599.7 430.1 L609.2 446.5 L594.1 436.2 L591.7 437.7 L583.8 429.8 L581.7 431.7Z" fill="#efb91e" stroke="#0c0c0c" stroke-width="1.5" stroke-linejoin="miter"/>
<path d="M629.5 410.5 L635.5 405.1 L639.7 411.9 L641.8 411 L645.8 417.3 L647.6 416.4 L653 428.2 L643.4 420.2 L641.6 421 L636.7 415.1 L635.2 416.3Z" fill="#f8d288" stroke="#f8d288" stroke-width="7" stroke-linejoin="round" filter="url(#glow)" opacity="0.9"/><path d="M629.5 410.5 L635.5 405.1 L639.7 411.9 L641.8 411 L645.8 417.3 L647.6 416.4 L653 428.2 L643.4 420.2 L641.6 421 L636.7 415.1 L635.2 416.3Z" fill="#efb91e" stroke="#0c0c0c" stroke-width="1.5" stroke-linejoin="miter"/>
<path d="M776.7 412 L769.2 406.7 L765.3 414.8 L762.8 414.1 L759.1 421.7 L757.1 420.9 L752.5 434.9 L762.3 424.6 L764.4 425.4 L769.1 418.1 L771 419.2Z" fill="#f8d288" stroke="#f8d288" stroke-width="7" stroke-linejoin="round" filter="url(#glow)" opacity="0.9"/><path d="M776.7 412 L769.2 406.7 L765.3 414.8 L762.8 414.1 L759.1 421.7 L757.1 420.9 L752.5 434.9 L762.3 424.6 L764.4 425.4 L769.1 418.1 L771 419.2Z" fill="#efb91e" stroke="#0c0c0c" stroke-width="1.5" stroke-linejoin="miter"/>
<path d="M841 416.9 L830.5 409.4 L825 420.8 L821.6 419.8 L816.3 430.4 L813.4 429.3 L807 448.9 L820.8 434.5 L823.7 435.6 L830.3 425.4 L833 426.9Z" fill="#f8d288" stroke="#f8d288" stroke-width="7" stroke-linejoin="round" filter="url(#glow)" opacity="0.9"/><path d="M841 416.9 L830.5 409.4 L825 420.8 L821.6 419.8 L816.3 430.4 L813.4 429.3 L807 448.9 L820.8 434.5 L823.7 435.6 L830.3 425.4 L833 426.9Z" fill="#efb91e" stroke="#0c0c0c" stroke-width="1.5" stroke-linejoin="miter"/>
</g>
<g id="cas9">
<g><path d="M592 557.3 H636" stroke="#7d8da8" stroke-width="1.7"/><path d="M597 563.6 H641" stroke="#7d8da8" stroke-width="1.7"/><path d="M598.5 557.6 V563.4" stroke="#6f7e9c" stroke-width="2.3"/><path d="M601.6 557.6 V563.4" stroke="#6f7e9c" stroke-width="2.3"/><path d="M604.7 557.6 V563.4" stroke="#6f7e9c" stroke-width="2.3"/><path d="M607.8 557.6 V563.4" stroke="#6f7e9c" stroke-width="2.3"/><path d="M610.9 557.6 V563.4" stroke="#6f7e9c" stroke-width="2.3"/><path d="M614 557.6 V563.4" stroke="#6f7e9c" stroke-width="2.3"/><path d="M617.1 557.6 V563.4" stroke="#6f7e9c" stroke-width="2.3"/><path d="M620.2 557.6 V563.4" stroke="#6f7e9c" stroke-width="2.3"/><path d="M623.3 557.6 V563.4" stroke="#6f7e9c" stroke-width="2.3"/><path d="M626.4 557.6 V563.4" stroke="#6f7e9c" stroke-width="2.3"/><path d="M629.5 557.6 V563.4" stroke="#6f7e9c" stroke-width="2.3"/><path d="M632.6 557.6 V563.4" stroke="#6f7e9c" stroke-width="2.3"/></g>
<g><path d="M696 557.3 H733" stroke="#7d8da8" stroke-width="1.7"/><path d="M696 563.6 H737.5" stroke="#7d8da8" stroke-width="1.7"/><path d="M697.5 557.6 V563.4" stroke="#6f7e9c" stroke-width="2.3"/><path d="M700.6 557.6 V563.4" stroke="#6f7e9c" stroke-width="2.3"/><path d="M703.7 557.6 V563.4" stroke="#6f7e9c" stroke-width="2.3"/><path d="M706.8 557.6 V563.4" stroke="#6f7e9c" stroke-width="2.3"/><path d="M709.9 557.6 V563.4" stroke="#6f7e9c" stroke-width="2.3"/><path d="M713 557.6 V563.4" stroke="#6f7e9c" stroke-width="2.3"/><path d="M716.1 557.6 V563.4" stroke="#6f7e9c" stroke-width="2.3"/><path d="M719.2 557.6 V563.4" stroke="#6f7e9c" stroke-width="2.3"/><path d="M722.3 557.6 V563.4" stroke="#6f7e9c" stroke-width="2.3"/><path d="M725.4 557.6 V563.4" stroke="#6f7e9c" stroke-width="2.3"/><path d="M728.5 557.6 V563.4" stroke="#6f7e9c" stroke-width="2.3"/><path d="M731.6 557.6 V563.4" stroke="#6f7e9c" stroke-width="2.3"/></g>
<path d="M632 541 Q640 536 648 534 Q655 525 662 525 Q672 531 680 533 Q686 528 692 528 Q698 532 702 539 L699 545 L693.5 573 Q696 580 693 587 L642 587 Q639 580 641.5 575 L634 548 Z" fill="#7fb4f0" stroke="#7fb4f0" stroke-width="5" stroke-linejoin="round" filter="url(#glow2)" opacity="0.9"/>
<path d="M634.2 547.5 L699.6 544 L693 574 L641.5 575.6 Z" fill="#bfdcf8" stroke="#1f3f98" stroke-width="1.3" stroke-linejoin="round"/>
<path d="M635.5 559.5 Q641 558.6 646 553 Q649 551 653 551 H676 Q683 551 688 556 Q692 559 697 559" fill="none" stroke="#6f94a6" stroke-width="1.6"/>
<path d="M636.5 562 Q641 563 645 568 Q649 571.4 656 571.4 H678 Q686 571 690 565 Q693 561.5 697 561.5" fill="none" stroke="#6f94a6" stroke-width="1.6"/>
<path d="M651 551 H676" stroke="#e9d23c" stroke-width="1.7"/>
<path d="M649 568.4 H677" stroke="#e9d23c" stroke-width="2.6"/>
<path d="M648.5 566.6 H677.5" stroke="#4f86a6" stroke-width="0.9"/>
<path d="M650.5 566.8 V569.8" stroke="#5f8fae" stroke-width="0.8"/>
<path d="M653.1 566.8 V569.8" stroke="#5f8fae" stroke-width="0.8"/>
<path d="M655.7 566.8 V569.8" stroke="#5f8fae" stroke-width="0.8"/>
<path d="M658.3 566.8 V569.8" stroke="#5f8fae" stroke-width="0.8"/>
<path d="M660.9 566.8 V569.8" stroke="#5f8fae" stroke-width="0.8"/>
<path d="M663.5 566.8 V569.8" stroke="#5f8fae" stroke-width="0.8"/>
<path d="M666.1 566.8 V569.8" stroke="#5f8fae" stroke-width="0.8"/>
<path d="M668.7 566.8 V569.8" stroke="#5f8fae" stroke-width="0.8"/>
<path d="M671.3 566.8 V569.8" stroke="#5f8fae" stroke-width="0.8"/>
<path d="M673.9 566.8 V569.8" stroke="#5f8fae" stroke-width="0.8"/>
<path d="M676.5 566.8 V569.8" stroke="#5f8fae" stroke-width="0.8"/>
<path d="M644.5 573.8 Q660 575 690 572.6 Q695 574 694 580 Q694 586.5 688 585.6 Q668 583 648 587.4 Q641.4 586.5 641.4 580 Q641 575 644.5 573.8Z" fill="#d3ddf4" stroke="#1f3f98" stroke-width="1.3" stroke-linejoin="round"/>
<path d="M648.6 575.5 Q650 580 658 580 Q672 578.6 684 579 Q687.4 579.6 687.4 583.4" fill="none" stroke="#58a9b8" stroke-width="1"/>
<path d="M631.4 544 Q630 540 634 538.6 Q642 535.6 648.4 533.9 Q655 524.4 661.5 525 Q670 531.6 679.5 532.4 Q686 527.4 691.4 528.2 Q698 532 702 539.4 Q701 543 699.4 544.4 Q680 543.6 666 545 Q650 546.6 636 549 Q632.4 548 631.4 544Z" fill="url(#gCasTop)" stroke="#1f3f98" stroke-width="1.4" stroke-linejoin="round"/>
<path d="M623 563.6 L618.3 593.6" stroke="#111" stroke-width="1.8"/>
<path d="M693.2 582.6 L712.2 593.8" stroke="#111" stroke-width="1.8"/>
<text x="586.2" y="607.2" font-size="13.7">Genomic DNA</text>
<text x="688.2" y="607.2" font-size="13.7">Cas9:sgRNA complex</text>
</g>
<g id="human">
<path d="M381.6 119.4 C384.1 119.4 386.9 119.8 389 120.8 C391.1 121.8 393 123.6 394.3 125.5 C395.6 127.4 396.2 129.8 396.6 132 C397 134.2 396.6 137.1 396.9 138.5 C397.2 139.9 398.3 139.2 398.4 140.5 C398.5 141.8 398.1 144.3 397.6 146 C397.1 147.7 396.1 148.8 395.3 150.5 C394.5 152.2 393.4 154.2 393 156 C392.6 157.8 392.4 160 392.6 161.5 C392.9 163 392.9 163.9 394.5 165 C396.1 166.1 399.2 167 402 168 C404.8 169 408.9 169.8 411.5 171 C414.1 172.2 415.8 173.5 417.3 175.3 C418.8 177.1 419.7 179.2 420.4 182 C421.1 184.8 421.2 187.8 421.5 192 C421.8 196.2 421.5 202.2 422 207 C422.5 211.8 423.5 217 424.5 221 C425.5 225 426.9 226.2 428 231 C429.1 235.8 429.9 244.6 431 249.8 C432.1 255 433.2 259 434.3 262 C435.4 265 436.8 265.7 437.6 268 C438.4 270.3 439.2 273.8 439.2 276 C439.2 278.2 438.8 280.3 437.5 281.4 C436.2 282.5 433.4 282.8 431.5 282.8 C429.6 282.8 427.4 282.3 426.2 281.2 C425 280.1 424.7 278 424.3 276 C423.9 274 424.1 270.9 424 269 C423.9 267.1 424.6 266.4 423.8 264.4 C423.1 262.4 420.8 259.4 419.5 257 C418.2 254.6 417 252.6 415.8 249.8 C414.6 247 413.4 243.6 412.5 240 C411.6 236.4 411.4 232.3 410.5 228 C409.6 223.7 408 213.7 407.2 214 C406.4 214.3 405.8 224 405.9 230 C406 236 407 244.3 407.9 249.8 C408.8 255.3 410.5 259 411.2 263 C411.9 267 411.9 269.3 411.9 273.7 C411.9 278.1 411.8 283.6 411.2 289.5 C410.6 295.4 409.3 304.3 408.5 309.4 C407.7 314.5 406.9 315.3 406.3 320 C405.7 324.7 404.7 331.4 404.9 337.5 C405.1 343.6 407.5 350.8 407.6 356.6 C407.7 362.4 406.7 366.7 405.5 372.5 C404.3 378.3 401.4 387 400.2 391.5 C399 396 398.2 396.4 398.4 399.5 C398.6 402.6 400.9 407.8 401.2 410.2 C401.5 412.6 401.5 413 400 413.8 C398.5 414.6 394.5 414.8 392 414.9 C389.5 415 386.3 415 385 414.4 C383.7 413.8 384 412.7 384.2 411 C384.4 409.3 385.4 408.9 386.4 404.3 C387.4 399.7 389.6 391 390.2 383.6 C390.8 376.2 390.2 366.3 390.1 359.7 C390 353.1 390 350.4 389.4 343.8 C388.8 337.2 387.3 325.9 386.4 320 C385.5 314.1 384.5 312.5 383.9 308.5 C383.3 304.5 383 299.4 382.6 296 C382.2 292.6 381.9 288.3 381.6 288.3 C381.3 288.3 381 292.6 380.6 296 C380.2 299.4 379.9 304.5 379.3 308.5 C378.7 312.5 377.7 314.1 376.8 320 C375.9 325.9 374.4 337.2 373.8 343.8 C373.2 350.4 373.2 353.1 373.1 359.7 C373 366.3 372.4 376.2 373 383.6 C373.6 391 375.8 399.7 376.8 404.3 C377.8 408.9 378.8 409.3 379 411 C379.2 412.7 379.5 413.8 378.2 414.4 C376.9 415 373.7 415 371.2 414.9 C368.7 414.8 364.7 414.6 363.2 413.8 C361.7 413 361.7 412.6 362 410.2 C362.3 407.8 364.6 402.6 364.8 399.5 C365 396.4 364.2 396 363 391.5 C361.8 387 358.9 378.3 357.7 372.5 C356.5 366.7 355.5 362.4 355.6 356.6 C355.7 350.8 358.1 343.6 358.3 337.5 C358.5 331.4 357.5 324.7 356.9 320 C356.3 315.3 355.5 314.5 354.7 309.4 C353.9 304.3 352.6 295.4 352 289.5 C351.4 283.6 351.3 278.1 351.3 273.7 C351.3 269.3 351.3 267 352 263 C352.7 259 354.4 255.3 355.3 249.8 C356.2 244.3 357.2 236 357.3 230 C357.4 224 356.8 214.3 356 214 C355.2 213.7 353.6 223.7 352.7 228 C351.8 232.3 351.6 236.4 350.7 240 C349.8 243.6 348.6 247 347.4 249.8 C346.2 252.6 345 254.6 343.7 257 C342.4 259.4 340.2 262.4 339.4 264.4 C338.7 266.4 339.3 267.1 339.2 269 C339.1 270.9 339.3 274 338.9 276 C338.5 278 338.2 280.1 337 281.2 C335.8 282.3 333.6 282.8 331.7 282.8 C329.8 282.8 327 282.5 325.7 281.4 C324.4 280.3 324 278.2 324 276 C324 273.8 324.8 270.3 325.6 268 C326.4 265.7 327.8 265 328.9 262 C330 259 331.2 255 332.2 249.8 C333.3 244.6 334.1 235.8 335.2 231 C336.3 226.2 337.7 225 338.7 221 C339.7 217 340.7 211.8 341.2 207 C341.7 202.2 341.4 196.2 341.7 192 C342 187.8 342.1 184.8 342.8 182 C343.5 179.2 344.4 177.1 345.9 175.3 C347.4 173.5 349.2 172.2 351.7 171 C354.3 169.8 358.4 169 361.2 168 C364 167 367.1 166.1 368.7 165 C370.3 163.9 370.4 163 370.6 161.5 C370.9 160 370.7 157.8 370.2 156 C369.8 154.2 368.7 152.2 367.9 150.5 C367.1 148.8 366.1 147.7 365.6 146 C365.1 144.3 364.7 141.8 364.8 140.5 C364.9 139.2 366 139.9 366.3 138.5 C366.6 137.1 366.2 134.2 366.6 132 C367 129.8 367.6 127.4 368.9 125.5 C370.2 123.6 372.1 121.8 374.2 120.8 C376.3 119.8 379.1 119.4 381.6 119.4Z" fill="#000"/>
<path d="M437 270 L442.3 278.8" stroke="#000" stroke-width="2.7" stroke-linecap="round"/>
<path d="M326.2 270 L320.9 278.8" stroke="#000" stroke-width="2.7" stroke-linecap="round"/>
<path d="M437 280 L439.3 288" stroke="#000" stroke-width="2.7" stroke-linecap="round"/>
<path d="M326.2 280 L323.9 288" stroke="#000" stroke-width="2.7" stroke-linecap="round"/>
<path d="M433.6 282 L434.3 291.8" stroke="#000" stroke-width="2.7" stroke-linecap="round"/>
<path d="M329.6 282 L328.9 291.8" stroke="#000" stroke-width="2.7" stroke-linecap="round"/>
<path d="M430 282 L429.8 291.2" stroke="#000" stroke-width="2.6" stroke-linecap="round"/>
<path d="M333.2 282 L333.4 291.2" stroke="#000" stroke-width="2.6" stroke-linecap="round"/>
<path d="M426.6 279 L425.3 287.4" stroke="#000" stroke-width="2.4" stroke-linecap="round"/>
<path d="M336.6 279 L337.9 287.4" stroke="#000" stroke-width="2.4" stroke-linecap="round"/>
<g fill="#f1d9a7" stroke="#e3c58a" stroke-width="0.4"><path d="M397.9 286 L400.9 286 L399.2 327 L396.9 327 Z"/><circle cx="394.8" cy="280.6" r="2.6"/><path d="M396 281 Q399 284 400.3 280 Q401.6 278.6 402.6 280.6 Q402.6 285 400.9 288 L397.6 288 Q397 284 395 282.5Z"/><path d="M396.9 326 Q395.5 329 393.6 331 Q393.2 334.6 396 334.6 Q397.6 333.4 398.2 334.6 Q401.6 335 402 332 Q400 329 399.4 326Z"/></g>
<path d="M398 296.6 h3" stroke="#222" stroke-width="1"/>
</g>
<g id="bag">
<path d="M470.4 176 V207 C470.4 226 455 236.6 436 236.6 H428" fill="none" stroke="#8c8c8c" stroke-width="4.2"/>
<path d="M470.4 176 V207 C470.4 226 455 236.6 436 236.6 H428" fill="none" stroke="#dedede" stroke-width="1.8"/>
<path d="M474.1 176.0 L474.1 178.1 L474.1 180.2 L474.1 182.2 L474.1 184.3 L474.1 186.4 L474.1 188.5 L474.1 190.6 L474.1 192.7 L474.1 194.8 L474.1 196.8 L474.1 198.9 L474.1 201.0 L474.1 203.1 L474.1 205.2 L474.1 207.2 L474.1 209.3 L474.1 211.4 L474.1 213.5 L474.1 215.6 L474.1 217.7 L474.1 219.8 L474.1 221.8 L474.1 223.9 L474.1 226.0 L474.1 229.8 L474.4 233.5 L475.0 237.1 L475.7 240.5 L476.5 243.9 L477.6 247.1 L478.8 250.2 L480.2 253.1 L481.8 255.9 L483.5 258.5 L485.4 261.0 L487.4 263.3 L489.6 265.5 L491.9 267.5 L494.4 269.3 L497.0 270.9 L499.7 272.4 L502.5 273.6 L505.5 274.7 L508.6 275.6 L511.8 276.2 L515.1 276.7 L518.5 277.0 L522.0 277.0 L523.6 277.0 L525.1 277.0 L526.7 277.0 L528.2 277.0 L529.8 277.0 L531.4 277.0 L532.9 277.0 L534.5 277.0 L536.1 277.0 L537.6 277.0 L539.2 277.0 L540.8 277.0 L542.3 277.0 L543.9 277.0 L545.4 277.0 L547.0 277.0 L548.6 277.0 L550.1 277.0 L551.7 277.0 L553.2 277.0 L554.8 277.0 L556.4 277.0 L557.9 277.0 L559.5 277.0 L559.5 275.2 L557.9 275.2 L556.4 275.2 L554.8 275.2 L553.2 275.2 L551.7 275.2 L550.1 275.2 L548.6 275.2 L547.0 275.2 L545.4 275.2 L543.9 275.2 L542.3 275.2 L540.8 275.2 L539.2 275.2 L537.6 275.2 L536.1 275.2 L534.5 275.2 L532.9 275.2 L531.4 275.2 L529.8 275.2 L528.2 275.2 L526.7 275.2 L525.1 275.2 L523.6 275.2 L522.0 275.2 L518.6 275.0 L515.3 274.7 L512.2 274.1 L509.2 273.4 L506.3 272.4 L503.5 271.3 L500.9 270.1 L498.3 268.6 L496.0 267.0 L493.7 265.3 L491.6 263.3 L489.7 261.3 L487.9 259.1 L486.2 256.7 L484.7 254.2 L483.3 251.6 L482.1 248.8 L481.1 245.9 L480.2 242.9 L479.5 239.7 L478.9 236.5 L478.5 233.1 L478.2 229.6 L478.1 226.0 L478.2 223.9 L478.2 221.8 L478.2 219.8 L478.2 217.7 L478.2 215.6 L478.2 213.5 L478.2 211.4 L478.2 209.3 L478.2 207.2 L478.2 205.2 L478.2 203.1 L478.2 201.0 L478.2 198.9 L478.2 196.8 L478.2 194.8 L478.2 192.7 L478.2 190.6 L478.2 188.5 L478.2 186.4 L478.2 184.3 L478.2 182.2 L478.2 180.2 L478.2 178.1 L478.2 176.0Z" fill="#0a0a0a"/>
<path d="M399.5 299.1 L401.2 299.1 L403.0 299.1 L404.7 299.1 L406.4 299.1 L408.1 299.1 L409.9 299.1 L411.6 299.1 L413.3 299.1 L415.1 299.1 L416.8 299.1 L418.5 299.1 L420.2 299.1 L422.0 299.1 L423.7 299.1 L425.4 299.1 L427.2 299.1 L428.9 299.1 L430.6 299.1 L432.4 299.1 L434.1 299.1 L435.8 299.1 L437.5 299.1 L439.3 299.1 L441.0 299.1 L443.7 299.2 L446.3 299.4 L448.8 299.8 L451.3 300.3 L453.8 300.9 L456.2 301.7 L458.5 302.6 L460.7 303.6 L462.9 304.7 L464.9 306.0 L466.8 307.4 L468.7 308.9 L470.4 310.6 L472.0 312.3 L473.5 314.2 L474.9 316.2 L476.1 318.3 L477.2 320.5 L478.1 322.8 L478.9 325.2 L479.5 327.8 L480.0 330.4 L480.3 333.1 L480.4 336.0 L480.4 338.5 L480.4 341.0 L480.4 343.5 L480.4 346.0 L480.4 348.5 L480.4 351.0 L480.4 353.5 L480.4 356.0 L480.4 358.5 L480.4 361.0 L480.4 363.5 L480.4 366.0 L480.4 368.5 L480.4 371.0 L480.4 373.5 L480.4 376.0 L480.4 378.5 L480.4 381.0 L480.4 383.5 L480.4 386.0 L480.4 388.5 L480.4 391.0 L480.4 393.5 L480.4 396.0 L480.4 400.0 L480.7 403.9 L481.2 407.7 L481.9 411.4 L482.7 415.0 L483.7 418.5 L484.9 421.8 L486.3 425.0 L487.9 428.0 L489.6 430.9 L491.5 433.6 L493.6 436.2 L495.8 438.5 L498.2 440.7 L500.8 442.7 L503.5 444.5 L506.4 446.1 L509.3 447.6 L512.5 448.8 L515.7 449.7 L519.1 450.5 L522.6 451.0 L526.3 451.3 L530.0 451.4 L531.4 451.4 L532.8 451.4 L534.2 451.4 L535.7 451.4 L537.1 451.4 L538.5 451.4 L539.9 451.4 L541.3 451.4 L542.8 451.4 L544.2 451.4 L545.6 451.4 L547.0 451.4 L548.4 451.4 L549.8 451.4 L551.2 451.4 L552.7 451.4 L554.1 451.4 L555.5 451.4 L556.9 451.4 L558.3 451.4 L559.8 451.4 L561.2 451.4 L562.6 451.4 L564.0 451.4 L564.0 449.6 L562.6 449.6 L561.2 449.6 L559.8 449.6 L558.3 449.6 L556.9 449.6 L555.5 449.6 L554.1 449.6 L552.7 449.6 L551.2 449.6 L549.8 449.6 L548.4 449.6 L547.0 449.6 L545.6 449.6 L544.2 449.6 L542.8 449.6 L541.3 449.6 L539.9 449.6 L538.5 449.6 L537.1 449.6 L535.7 449.6 L534.2 449.6 L532.8 449.6 L531.4 449.6 L530.0 449.6 L526.4 449.4 L522.9 449.0 L519.5 448.4 L516.3 447.6 L513.2 446.6 L510.3 445.4 L507.5 444.0 L504.8 442.4 L502.3 440.7 L500.0 438.7 L497.8 436.6 L495.7 434.3 L493.8 431.9 L492.0 429.3 L490.4 426.6 L488.9 423.7 L487.6 420.7 L486.5 417.6 L485.5 414.3 L484.7 410.9 L484.1 407.3 L483.6 403.7 L483.3 399.9 L483.2 396.0 L483.2 393.5 L483.2 391.0 L483.2 388.5 L483.2 386.0 L483.2 383.5 L483.2 381.0 L483.2 378.5 L483.2 376.0 L483.2 373.5 L483.2 371.0 L483.2 368.5 L483.2 366.0 L483.2 363.5 L483.2 361.0 L483.2 358.5 L483.2 356.0 L483.2 353.5 L483.2 351.0 L483.2 348.5 L483.2 346.0 L483.2 343.5 L483.2 341.0 L483.2 338.5 L483.2 336.0 L483.2 333.0 L482.9 330.0 L482.4 327.2 L481.7 324.4 L480.9 321.8 L479.8 319.3 L478.7 316.9 L477.3 314.6 L475.9 312.5 L474.2 310.4 L472.5 308.5 L470.6 306.8 L468.6 305.1 L466.5 303.6 L464.3 302.2 L462.0 301.0 L459.6 299.9 L457.1 298.9 L454.6 298.1 L452.0 297.5 L449.3 296.9 L446.6 296.6 L443.8 296.3 L441.0 296.3 L439.3 296.2 L437.5 296.2 L435.8 296.2 L434.1 296.2 L432.4 296.2 L430.6 296.2 L428.9 296.2 L427.2 296.2 L425.4 296.2 L423.7 296.2 L422.0 296.2 L420.2 296.2 L418.5 296.2 L416.8 296.2 L415.1 296.2 L413.3 296.2 L411.6 296.2 L409.9 296.2 L408.1 296.2 L406.4 296.2 L404.7 296.2 L403.0 296.2 L401.2 296.2 L399.5 296.2Z" fill="#0a0a0a"/>
<path d="M429.8 228.4 H434 A28.3 30 0 0 0 462.3 198.4 V195.4 H464.4 L459 186 L453.5 195.4 H457 V198.4 A23 24.3 0 0 1 434 222.7 H429.8 Z" fill="#dbe8be" stroke="#a0bc68" stroke-width="1.3" stroke-linejoin="miter"/>
<path d="M484.4 189.9 H491.3 V232 A24.7 27.4 0 0 0 516 259.4 H520.4 V256.9 L533.2 262.8 L520.4 268.9 V266.3 H516 A31.6 34.3 0 0 1 484.4 232 Z" fill="#dbe8be" stroke="#a0bc68" stroke-width="1.3" stroke-linejoin="miter"/>
<path d="M466 401.4 V342 A21 28.7 0 0 0 445 313.3 H436.8 V316 L424 309.7 L436.8 303.6 V306.4 H445 A28.1 35.6 0 0 1 473.1 342 V401.4 Z" fill="#dbe8be" stroke="#a0bc68" stroke-width="1.3" stroke-linejoin="miter"/>
<path d="M463.4 86 V81 A10.6 8 0 0 1 484.6 81 V86" fill="none" stroke="#8a8a8a" stroke-width="3.4"/>
<path d="M463.4 86 V81 A10.6 8 0 0 1 484.6 81 V86" fill="none" stroke="#fff" stroke-width="1.4"/>
<rect x="456.6" y="169.6" width="34" height="4" fill="#bdbdbd" stroke="#858585" stroke-width="0.9"/>
<rect x="461" y="173.6" width="26" height="3.7" fill="#a9a9a9" stroke="#858585" stroke-width="0.9"/>
<rect x="444.4" y="85.1" width="59.3" height="85.8" rx="7" ry="7" fill="#f3f3f3" stroke="#858585" stroke-width="1.3"/>
<path d="M446.4 164 V134.6 Q446.4 128.6 452.4 128.6 H496 Q502 128.6 502 134.6 V164 Q502 169 497 169 H451.4 Q446.4 169 446.4 164Z" fill="#c0504d"/>
<rect x="486.3" y="96.1" width="10.6" height="3.2" rx="1.4" ry="1.4" fill="#a6a6a6" stroke="#7a7a7a" stroke-width="0.8"/>
<rect x="486.3" y="108.3" width="10.6" height="3.2" rx="1.4" ry="1.4" fill="#a6a6a6" stroke="#7a7a7a" stroke-width="0.8"/>
<rect x="486.3" y="120.5" width="10.6" height="3.2" rx="1.4" ry="1.4" fill="#a6a6a6" stroke="#7a7a7a" stroke-width="0.8"/>
<rect x="486.3" y="132.3" width="10.6" height="3.2" rx="1.4" ry="1.4" fill="#b98a86" stroke="#7a7a7a" stroke-width="0.8"/>
<rect x="486.3" y="144.2" width="10.6" height="3.2" rx="1.4" ry="1.4" fill="#b98a86" stroke="#7a7a7a" stroke-width="0.8"/>
<rect x="486.3" y="156.4" width="10.6" height="3.2" rx="1.4" ry="1.4" fill="#b98a86" stroke="#7a7a7a" stroke-width="0.8"/>
</g>
<g id="left">
<circle cx="171.6" cy="266.8" r="107" fill="none" stroke="#c8281c" stroke-width="2.6" stroke-dasharray="20.009 8.204 2.601 7.603 2.601 7.003" transform="rotate(-102.4 171.6 266.8)"/>
<path d="M111.7 214.2 C111.3 211.8 109.1 203.3 109.4 200 C109.7 196.7 111.2 193.8 113.3 194.4 C115.3 195 119.5 201.6 121.7 203.3 C123.9 205 121.2 208 126.7 204.8 C132.2 201.6 150.3 187.6 155 184.2" fill="none" stroke="#63b7cf" stroke-width="2.1" stroke-linecap="round" stroke-linejoin="round"/>
<path d="M148.3 217.5 C151.4 212.7 162.5 194 166.7 188.8 C170.9 183.6 170.8 185.4 173.6 186.3 C176.4 187.2 181 193.6 183.3 194.2 C185.6 194.8 187.9 192.8 187.3 189.6 C186.7 186.4 181 177.4 179.7 175" fill="none" stroke="#a3d273" stroke-width="2.1" stroke-linecap="round" stroke-linejoin="round"/>
<path d="M191.7 198.7 C193.9 198.1 201.7 195 205 195 C208.3 195 211.1 197 211.5 198.7 C211.9 200.4 209.3 202.8 207.5 205 C205.7 207.2 201.6 209.6 200.9 211.7 C200.2 213.8 199.6 212.8 203.3 217.5 C207 222.2 220 236.2 223.3 240" fill="none" stroke="#d9473b" stroke-width="2.1" stroke-linecap="round" stroke-linejoin="round"/>
<path d="M225.8 205 C228.3 208.9 237.7 223 240.8 228.3 C243.9 233.6 244.6 234.2 244.2 236.7 C243.8 239.2 240.4 241.6 238.3 243.3 C236.2 245 232.2 245.6 231.9 247 C231.6 248.4 233.4 250.9 236.7 251.5 C240 252.1 249.2 250.9 251.7 250.8" fill="none" stroke="#3a9bc3" stroke-width="2.1" stroke-linecap="round" stroke-linejoin="round"/>
<path d="M85.8 224.2 C87.9 222.1 95.6 213.2 98.3 211.9 C101 210.7 101.6 214.5 101.9 216.7 C102.2 218.9 99.6 222.7 100 225 C100.4 227.3 98 228.7 104.2 230.8 C110.4 232.9 131.5 236.4 137 237.5" fill="none" stroke="#111111" stroke-width="2.1" stroke-linecap="round" stroke-linejoin="round"/>
<path d="M125 226.7 C126.7 224.1 132.6 212.4 135 211 C137.4 209.6 138.1 215.7 139.2 218.3 C140.3 220.9 140.2 225 141.7 226.7 C143.2 228.4 142.3 228.5 148.3 228.3 C154.3 228.2 172.6 226.2 177.5 225.8" fill="none" stroke="#b4b4c0" stroke-width="2.1" stroke-linecap="round" stroke-linejoin="round"/>
<path d="M157.5 240.3 C162.6 240 182.2 237.9 188.3 238.3 C194.4 238.7 192.8 240 194.2 242.5 C195.6 245 195.4 251.2 196.7 253.3 C197.9 255.4 199.5 257.2 201.7 254.8 C203.9 252.5 208.6 241.8 210 239.2" fill="none" stroke="#8474aa" stroke-width="2.1" stroke-linecap="round" stroke-linejoin="round"/>
<path d="M78.3 248.7 C84.4 247.8 108.3 243.4 115 243.3 C121.7 243.2 117.6 245.3 118.6 248 C119.6 250.7 119.6 257.6 120.8 259.2 C122 260.8 124 260.4 125.5 257.5 C127 254.6 129.2 244.3 130 241.7" fill="none" stroke="#cbc9dd" stroke-width="2.1" stroke-linecap="round" stroke-linejoin="round"/>
<path d="M136.7 262.5 C138.4 259.9 144.4 248.7 146.7 246.9 C149 245.2 149.5 249.8 150.6 252 C151.7 254.2 151.7 258.3 153.3 260 C154.9 261.7 154 261.8 160 262.2 C166 262.6 184.3 262.2 189.2 262.2" fill="none" stroke="#f1a962" stroke-width="2.1" stroke-linecap="round" stroke-linejoin="round"/>
<path d="M211.7 262 C217 261.6 237.1 259.5 243.3 259.7 C249.6 259.9 247.9 260.9 249.2 263.3 C250.4 265.7 249.8 272 250.8 274.2 C251.8 276.4 253.5 276.9 255 276.5 C256.5 276.1 258.5 274.3 260 271.7 C261.5 269.1 263.5 262.6 264.2 260.8" fill="none" stroke="#a3a372" stroke-width="2.1" stroke-linecap="round" stroke-linejoin="round"/>
<path d="M81.7 276.3 C83.1 273.8 87.8 262.9 90 261 C92.2 259.1 93.8 262.7 95 265 C96.2 267.3 96.1 272.9 97.5 275 C98.9 277.1 97.2 277.4 103.3 277.5 C109.4 277.6 129 275.7 134.2 275.3" fill="none" stroke="#a3a372" stroke-width="2.1" stroke-linecap="round" stroke-linejoin="round"/>
<path d="M156.7 275 C162 274.6 182.1 272.2 188.3 272.5 C194.6 272.8 192.9 274.2 194.2 276.7 C195.4 279.2 195 285.3 195.8 287.5 C196.6 289.7 197.8 290.2 199.2 289.8 C200.6 289.4 202.7 287.6 204.2 285 C205.7 282.4 207.6 276 208.3 274.2" fill="none" stroke="#f1a962" stroke-width="2.1" stroke-linecap="round" stroke-linejoin="round"/>
<path d="M215 294.2 C216.4 291.4 221.2 279.2 223.3 277.7 C225.4 276.2 226.4 282.5 227.5 285 C228.6 287.5 228.2 291.1 230 292.5 C231.8 293.9 232.2 294 238.3 293.3 C244.4 292.6 262 289.1 266.7 288.3" fill="none" stroke="#d6d6de" stroke-width="2.1" stroke-linecap="round" stroke-linejoin="round"/>
<path d="M135.8 298 C137.3 295.3 142.8 283.8 145 281.9 C147.2 280 148.2 284.2 149.2 286.7 C150.2 289.2 149.3 294.6 150.8 296.7 C152.3 298.8 152.1 299.1 158.3 299.2 C164.6 299.2 183.3 297.4 188.3 297" fill="none" stroke="#8474aa" stroke-width="2.1" stroke-linecap="round" stroke-linejoin="round"/>
<path d="M93.3 286.7 C95.2 286.4 101.8 284.7 105 285 C108.2 285.3 111.5 286.8 112.3 288.3 C113.1 289.8 111.6 292.5 110 294.2 C108.4 295.9 104 296.5 102.7 298.3 C101.5 300.1 99.8 299.4 102.5 305 C105.2 310.6 116.4 327.5 119.2 332" fill="none" stroke="#3a9bc3" stroke-width="2.1" stroke-linecap="round" stroke-linejoin="round"/>
<path d="M208.3 299.7 C213 300.6 230.9 303.4 236.7 305 C242.5 306.6 241.9 307.2 243.3 309.2 C244.7 311.1 245.1 314.3 245 316.7 C244.9 319.1 242.4 321.8 242.7 323.3 C243 324.8 244.8 326.2 246.7 325.6 C248.6 325.1 252 322.1 254.2 320 C256.4 317.9 258.8 314.2 259.7 313" fill="none" stroke="#111111" stroke-width="2.1" stroke-linecap="round" stroke-linejoin="round"/>
<path d="M121.7 297 C125 301 137.8 315.9 141.7 320.8 C145.5 325.8 144.8 324.8 144.8 326.7 C144.8 328.6 143.6 330.7 141.7 332.5 C139.8 334.3 134.3 336 133.5 337.5 C132.7 339 133.2 341.4 136.7 341.7 C140.1 342 151.3 339.6 154.2 339.2" fill="none" stroke="#d9473b" stroke-width="2.1" stroke-linecap="round" stroke-linejoin="round"/>
<path d="M168 311.3 C173.3 310.9 193.8 308.9 200 309.2 C206.2 309.5 203.8 310.7 205 313.3 C206.2 315.9 206.4 322.8 207.5 325 C208.6 327.2 210.2 327.3 211.7 326.5 C213.2 325.7 215.2 322.8 216.7 320 C218.2 317.2 220.1 311.7 220.8 310" fill="none" stroke="#b1abbf" stroke-width="2.1" stroke-linecap="round" stroke-linejoin="round"/>
<path d="M196.7 320.8 C193.5 325.5 181.6 343.9 177.5 348.8 C173.4 353.7 174.5 350.9 172 350 C169.5 349.1 164.8 343.9 162.5 343.3 C160.2 342.8 158.9 344.8 158.5 346.7 C158.1 348.6 158.8 352.3 160 355 C161.2 357.7 164.8 361.7 165.8 363" fill="none" stroke="#a3d273" stroke-width="2.1" stroke-linecap="round" stroke-linejoin="round"/>
<path d="M190.8 353.3 C195.1 350 211.5 336.8 216.7 333.3 C221.8 329.8 219.8 331.4 221.7 332.5 C223.6 333.6 226.5 338.2 228.3 340 C230.1 341.8 231.2 343.4 232.5 343.1 C233.8 342.8 235.7 341.6 235.8 338.3 C235.9 335 233.7 325.8 233.3 323.3" fill="none" stroke="#63b7cf" stroke-width="2.1" stroke-linecap="round" stroke-linejoin="round"/>
<circle cx="254.6" cy="580.6" r="35.8" fill="none" stroke="#c8281c" stroke-width="2.4" stroke-dasharray="18.894 7.955 2.585 8.055" transform="rotate(-112 254.6 580.6)"/>
<path d="M239.3 565.5 C239.7 564.2 240.3 559.9 241.5 558 C242.7 556.1 245 554 246.5 554.3 C248 554.5 249.2 557.7 250.5 559.5 C251.8 561.3 250.1 564.1 254.5 565 C258.9 565.9 273 565 276.7 565" fill="none" stroke="#f1ab62" stroke-width="1.7" stroke-linecap="round" stroke-linejoin="round"/>
<path d="M239.3 583 C239.7 581.8 240.3 577.5 241.5 575.5 C242.7 573.5 245 571.1 246.5 571.3 C248 571.5 249.2 574.6 250.5 576.5 C251.8 578.4 250.1 581.5 254.5 582.4 C258.9 583.3 273 581.8 276.7 581.7" fill="none" stroke="#63b7cf" stroke-width="1.7" stroke-linecap="round" stroke-linejoin="round"/>
<path d="M239.3 601 C239.7 599.8 240.3 595.5 241.5 593.5 C242.7 591.5 245 589.1 246.5 589.3 C248 589.5 249.2 592.6 250.5 594.5 C251.8 596.4 250.1 599.5 254.5 600.4 C258.9 601.3 273 600.1 276.7 600" fill="none" stroke="#111111" stroke-width="1.7" stroke-linecap="round" stroke-linejoin="round"/>
<path d="M165.7 437.3 H172.2 V567.4 Q172.2 570.6 175.4 570.6 H182.6 V569.2 L191.8 574.1 L182.6 578.9 V577.5 H172.6 Q165.7 577.5 165.7 570.6 Z" fill="#bccdeb" stroke="#5075b0" stroke-width="1.2" stroke-linejoin="miter"/>
<path d="M318.8 574.4 H366.7 V570.8 L376 578 L366.7 585.2 V581.7 H318.8 Z" fill="#bccdeb" stroke="#5075b0" stroke-width="1.2" stroke-linejoin="miter"/>
<path d="M491 577.8 H569.8 V574.4 L577.4 581.3 L569.8 588.2 V584.8 H491 Z" fill="#bccdeb" stroke="#5075b0" stroke-width="1.2" stroke-linejoin="miter"/>
<g fill="none" stroke="#4db1c2" stroke-width="2.1" stroke-linecap="round"><path d="M397.6 570.6 H452 Q462.6 571 462.2 578.4 Q461.4 585.6 450 585.8 L410 586 Q398 587 397.8 592.4 Q398.4 598.6 412 598.4 Q440 596 458 594 Q468 593.6 469.4 600 L469.8 604"/><path d="M403.5 571 V575 M409.5 571 V575 M415.5 571 V575 M421.5 571 V575 M427.5 571 V575 M433.5 571 V575 M443 571 V575"/></g>
</g>
<g id="boxes">
<rect x="35" y="6" width="267" height="51.4" rx="8" ry="8" fill="#eac4c3" filter="url(#sh)"/>
<text x="168.5" y="41.2" font-size="24" font-weight="bold" text-anchor="middle">Preclinical settings</text>
<rect x="582" y="6" width="237" height="51.4" rx="8" ry="8" fill="#d7d0e5" filter="url(#sh)"/>
<text x="701" y="41.2" font-size="24" font-weight="bold" text-anchor="middle">Clinical settings</text>
<rect x="93.6" y="103.2" width="149.4" height="37.4" rx="6" ry="6" fill="#eac4c3" filter="url(#sh)"/>
<text x="167.6" y="129" font-size="18" text-anchor="middle">sgRNA selection</text>
<rect x="609" y="94" width="191.4" height="60" rx="8" ry="8" fill="#d7d0e5"/>
<text x="707.2" y="119.4" font-size="19" text-anchor="middle">CliniMACS Prodigy®</text>
<text x="706.9" y="141.6" font-size="19" text-anchor="middle">Miltenyi Biotec</text>
<rect x="90.4" y="389" width="158.4" height="35.6" rx="1.5" ry="1.5" fill="#eac4c3" filter="url(#sh)"/>
<text x="169" y="414.3" font-size="18" text-anchor="middle">In silico sgRNAs</text>
<rect x="6.8" y="456" width="147.6" height="80.6" rx="1" ry="1" fill="#eac4c3" filter="url(#sh)"/>
<text x="17.4" y="481.7" font-size="23" font-family="'DejaVu Sans', sans-serif">✓</text>
<text x="44.4" y="481.1" font-size="18">ICE / TIDE</text>
<text x="17.4" y="502.7" font-size="23" font-family="'DejaVu Sans', sans-serif">✓</text>
<text x="44.4" y="502.1" font-size="18">RNA-seq</text>
<text x="17.4" y="524.8" font-size="23" font-family="'DejaVu Sans', sans-serif">✓</text>
<text x="44.4" y="524.2" font-size="18">GUIDE-seq</text>
<rect x="196" y="458.2" width="128" height="74" rx="10" ry="10" fill="#eac4c3"/>
<text x="211.2" y="481.2" font-size="18">Preselection:</text>
<text x="208.2" y="505" font-size="27">↓</text><text x="225" y="502.4" font-size="18">off-targets</text>
<text x="208.2" y="527" font-size="27">↑</text><text x="225" y="524.2" font-size="18">on-target</text>
<rect x="378" y="523.4" width="115" height="31.6" rx="6" ry="6" fill="#eac4c3"/>
<text x="385.3" y="545.2" font-size="18">Best sgRNA</text>
<rect x="879.2" y="203.4" width="40.2" height="162.8" rx="6" ry="6" fill="#d7d0e5"/>
<text transform="translate(889 284) rotate(90)" font-size="19.2" text-anchor="middle">CD34<tspan font-size="12.5" dy="-6.4">+</tspan><tspan dy="6.4"> separation</tspan></text>
<rect x="879.3" y="425.8" width="40.3" height="148.8" rx="6" ry="6" fill="#d7d0e5"/>
<text transform="translate(889 496.3) rotate(90)" font-size="18.8" text-anchor="middle">Electroporation</text>
<rect x="974" y="250.5" width="157" height="55.5" rx="0" ry="0" fill="#d7d0e5"/>
<text x="1052.6" y="274.6" font-size="17.3" text-anchor="middle">Cryopreservation</text>
<text x="1053" y="295.7" font-size="17.4" text-anchor="middle">(Back-up)</text>
<rect x="973.6" y="436.4" width="157.8" height="101.8" rx="0" ry="0" fill="#d7d0e5"/>
<text x="987" y="462" font-size="18">Analyses:</text>
<text transform="translate(984.7 482.4) scale(1 0.88)" font-size="22" font-family="'DejaVu Sans', sans-serif">✓</text>
<text x="1011.2" y="483.4" font-size="18">Viability</text>
<text transform="translate(984.7 504) scale(1 0.88)" font-size="22" font-family="'DejaVu Sans', sans-serif">✓</text>
<text x="1011.2" y="505" font-size="18">ICE / TIDE</text>
<text transform="translate(984.7 525.4) scale(1 0.88)" font-size="22" font-family="'DejaVu Sans', sans-serif">✓</text>
<text x="1011.2" y="526.4" font-size="18">Microbiology</text>
<path d="M925 283 H956" stroke="#000" stroke-width="1.5"/><path d="M964.6 283 L954 278 L954 288 Z" fill="#000"/>
<path d="M925 486 H956" stroke="#000" stroke-width="1.5"/><path d="M964.6 486 L954 481 L954 491 Z" fill="#000"/>
</g>
<g id="badges">
<circle cx="55" cy="385.7" r="18.9" fill="#cfe3f6" opacity="0.8"/><circle cx="55" cy="385.7" r="17.4" fill="#1f93f2" stroke="#3c8edb" stroke-width="1.3"/><g transform="translate(54.7 393.6)" clip-path="url(#cpOne)"><text x="0" y="0" font-size="19" font-weight="bold" text-anchor="middle" style="fill:#fff">1</text></g>
<circle cx="123" cy="572" r="18.9" fill="#cfe3f6" opacity="0.8"/><circle cx="123" cy="572" r="17.4" fill="#1f93f2" stroke="#3c8edb" stroke-width="1.3"/><text x="123" y="579.9" font-size="19" font-weight="bold" text-anchor="middle" style="fill:#fff">2</text>
<circle cx="435.7" cy="641" r="18.9" fill="#cfe3f6" opacity="0.8"/><circle cx="435.7" cy="641" r="17.4" fill="#1f93f2" stroke="#3c8edb" stroke-width="1.3"/><text x="435.7" y="648.9" font-size="19" font-weight="bold" text-anchor="middle" style="fill:#fff">3</text>
<circle cx="532.6" cy="121.8" r="18.9" fill="#ead3e0" opacity="0.8"/><circle cx="532.6" cy="121.8" r="17.4" fill="#98185a" stroke="#7e1d53" stroke-width="1.3"/><g transform="translate(532.3 129.7)" clip-path="url(#cpOne)"><text x="0" y="0" font-size="19" font-weight="bold" text-anchor="middle" style="fill:#fff">1</text></g>
<circle cx="591" cy="347" r="18.9" fill="#ead3e0" opacity="0.8"/><circle cx="591" cy="347" r="17.4" fill="#98185a" stroke="#7e1d53" stroke-width="1.3"/><text x="591" y="354.9" font-size="19" font-weight="bold" text-anchor="middle" style="fill:#fff">2</text>
<circle cx="434.7" cy="367.2" r="18.9" fill="#ead3e0" opacity="0.8"/><circle cx="434.7" cy="367.2" r="17.4" fill="#98185a" stroke="#7e1d53" stroke-width="1.3"/><text x="434.7" y="375.1" font-size="19" font-weight="bold" text-anchor="middle" style="fill:#fff">5</text>
<circle cx="825.6" cy="572.4" r="18.9" fill="#ead3e0" opacity="0.8"/><circle cx="825.6" cy="572.4" r="17.4" fill="#98185a" stroke="#7e1d53" stroke-width="1.3"/><text x="825.6" y="580.3" font-size="19" font-weight="bold" text-anchor="middle" style="fill:#fff">3</text>
<circle cx="1060" cy="572.4" r="18.9" fill="#ead3e0" opacity="0.8"/><circle cx="1060" cy="572.4" r="17.4" fill="#98185a" stroke="#7e1d53" stroke-width="1.3"/><text x="1060" y="580.3" font-size="19" font-weight="bold" text-anchor="middle" style="fill:#fff">4</text>
</g>
</svg></body></html>
